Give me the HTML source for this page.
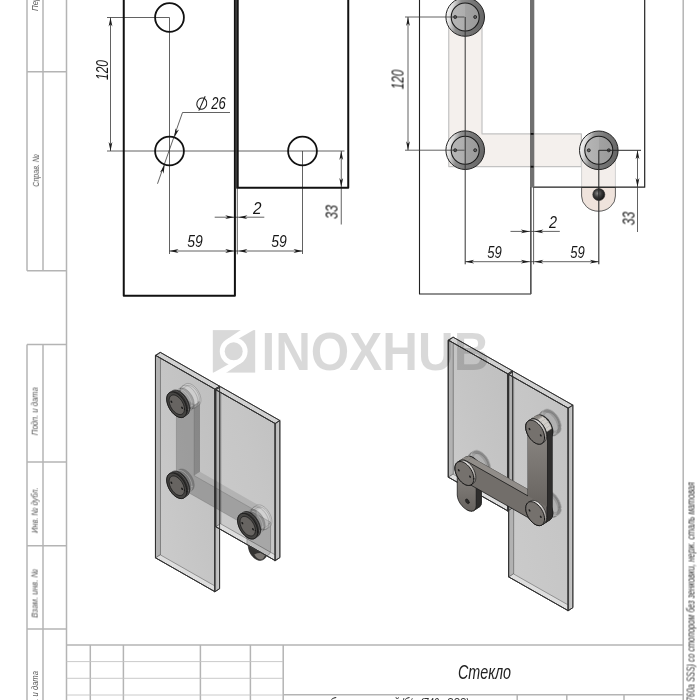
<!DOCTYPE html>
<html><head><meta charset="utf-8"><title>drawing</title>
<style>html,body{margin:0;padding:0;background:#fff;overflow:hidden}svg{display:block}</style>
</head><body>
<svg width="700" height="700" viewBox="0 0 700 700">
<rect width="700" height="700" fill="#fff"/>
<defs>
<filter id="nf" x="-20%" y="-20%" width="140%" height="140%" color-interpolation-filters="sRGB"><feOffset dx="0" dy="0"/></filter>
<linearGradient id="ring" x1="0" y1="0.4" x2="1" y2="0.6">
<stop offset="0" stop-color="#fafafa"/><stop offset="0.14" stop-color="#dadada"/><stop offset="0.32" stop-color="#8e8e8e"/><stop offset="0.6" stop-color="#777"/><stop offset="1" stop-color="#666"/>
</linearGradient>
<linearGradient id="disc" x1="0" y1="0" x2="1" y2="0">
<stop offset="0" stop-color="#b6b6b6"/><stop offset="0.5" stop-color="#adadad"/><stop offset="0.5" stop-color="#a2a2a2"/><stop offset="1" stop-color="#9a9a9a"/>
</linearGradient>
<radialGradient id="ball" cx="0.4" cy="0.4" r="0.6">
<stop offset="0" stop-color="#8a8a8a"/><stop offset="0.5" stop-color="#3c3c3c"/><stop offset="1" stop-color="#161616"/>
</radialGradient>
</defs>
<defs>
<linearGradient id="gl1" x1="0" y1="1" x2="1" y2="0"><stop offset="0" stop-color="#cccccc"/><stop offset="0.5" stop-color="#c5c5c5"/><stop offset="1" stop-color="#bfbfbf"/></linearGradient>
<linearGradient id="gl2" x1="0" y1="1" x2="1" y2="0"><stop offset="0" stop-color="#cbcbcb"/><stop offset="0.6" stop-color="#c6c6c6"/><stop offset="1" stop-color="#c1c1c1"/></linearGradient>
<linearGradient id="side" x1="0" y1="0" x2="1" y2="0"><stop offset="0" stop-color="#b4b4b4"/><stop offset="1" stop-color="#cdcdcd"/></linearGradient>
<linearGradient id="arm" x1="0" y1="0" x2="0" y2="1"><stop offset="0" stop-color="#8c8884"/><stop offset="1" stop-color="#67635f"/></linearGradient>
<linearGradient id="armh" x1="0" y1="0" x2="1" y2="0.5"><stop offset="0" stop-color="#6e6a66"/><stop offset="1" stop-color="#7c7874"/></linearGradient>
<linearGradient id="metal" x1="0" y1="0" x2="1" y2="1"><stop offset="0" stop-color="#8a8682"/><stop offset="0.35" stop-color="#e6e4e2"/><stop offset="0.7" stop-color="#b5b1ad"/><stop offset="1" stop-color="#77736f"/></linearGradient>
</defs>
<clipPath id="c1"><path d="M155.8,558 L214.9,591.7 L219.58,588.66 L219.58,386.16 L160.48,352.46 L155.8,355.5 Z M216.08,526.9 L275.18,560.6 L279.86,557.56 L279.86,420.53 L220.76,386.83 L216.08,389.87 Z"/></clipPath>
<path d="M247.8,541 L248.2,545.3 C248.6,552 252,558 258.5,560.3 C262,560.9 265.6,559 266.5,555.6 L266.5,550 Z" fill="#343332" stroke="#1a1a1a" stroke-width="0.6"/>
<path d="M254.3,554.4 Q259,552 265.2,553.8 Q264.8,557.8 261.6,559.4 Q257.3,559.8 254.3,554.4 Z" fill="#7c7874"/>
<path d="M155.8,558 L214.9,591.7 L214.9,389.2 L155.8,355.5 Z" fill="url(#gl1)" stroke="none" stroke-width="0.8" stroke-linejoin="round" stroke-linecap="round" />
<path d="M155.8,558 L160.48,554.96 L160.48,352.46 L155.8,355.5 Z" fill="#b2b2b2" stroke="#555" stroke-width="0.6" stroke-linejoin="round" stroke-linecap="round" />
<path d="M155.8,558 L214.9,591.7 L219.58,588.66 L160.48,554.96 Z" fill="#dedede" stroke="#666" stroke-width="0.6" stroke-linejoin="round" stroke-linecap="round" />
<path d="M155.8,355.5 L214.9,389.2 L219.58,386.16 L160.48,352.46 Z" fill="#d2d2d2" stroke="#3a3a3a" stroke-width="0.8" stroke-linejoin="round" stroke-linecap="round" />
<path d="M214.9,591.7 L219.58,588.66 L219.58,386.16 L214.9,389.2 Z" fill="url(#side)" stroke="#3a3a3a" stroke-width="0.8" stroke-linejoin="round" stroke-linecap="round" />
<path d="M155.8,558 L214.9,591.7 L214.9,389.2 L155.8,355.5 Z" fill="none" stroke="#3a3a3a" stroke-width="0.9" stroke-linejoin="round" stroke-linecap="round" />
<path d="M216.08,526.9 L275.18,560.6 L275.18,423.57 L216.08,389.87 Z" fill="url(#gl2)" stroke="none" stroke-width="0.8" stroke-linejoin="round" stroke-linecap="round" />
<path d="M216.08,526.9 L220.76,523.86 L220.76,386.83 L216.08,389.87 Z" fill="#b2b2b2" stroke="#555" stroke-width="0.6" stroke-linejoin="round" stroke-linecap="round" />
<path d="M216.08,526.9 L275.18,560.6 L279.86,557.56 L220.76,523.86 Z" fill="#dedede" stroke="#666" stroke-width="0.6" stroke-linejoin="round" stroke-linecap="round" />
<path d="M216.08,389.87 L275.18,423.57 L279.86,420.53 L220.76,386.83 Z" fill="#d2d2d2" stroke="#3a3a3a" stroke-width="0.8" stroke-linejoin="round" stroke-linecap="round" />
<path d="M275.18,560.6 L279.86,557.56 L279.86,420.53 L275.18,423.57 Z" fill="url(#side)" stroke="#3a3a3a" stroke-width="0.8" stroke-linejoin="round" stroke-linecap="round" />
<path d="M216.08,526.9 L275.18,560.6 L275.18,423.57 L216.08,389.87 Z" fill="none" stroke="#3a3a3a" stroke-width="0.9" stroke-linejoin="round" stroke-linecap="round" />
<g clip-path="url(#c1)">
<path d="M176.43,394.59 L176.43,485.72 L256.22,531.21 L256.22,510.96 L194.16,475.58 L194.16,404.7 Z" fill="rgba(0,0,0,0.20)" stroke="none" stroke-width="0.8" stroke-linejoin="round" stroke-linecap="round" />
<path d="M194.16,475.58 L194.16,404.7 L200.01,400.9 L200.01,471.78 Z" fill="rgba(0,0,0,0.30)" stroke="none" stroke-width="0.8" stroke-linejoin="round" stroke-linecap="round" />
<path d="M194.16,475.58 L256.22,510.96 L262.07,507.16 L200.01,471.78 Z" fill="rgba(0,0,0,0.10)" stroke="none" stroke-width="0.8" stroke-linejoin="round" stroke-linecap="round" />
<path d="M176.43,394.59 L176.43,485.72 L256.22,531.21 L256.22,510.96 L194.16,475.58 L194.16,404.7 Z" fill="none" stroke="rgba(60,60,60,0.35)" stroke-width="0.6" stroke-linejoin="round" stroke-linecap="round" />
<path d="M247,515.83 L252.85,512.03 L270.58,522.14 L270.58,550.49 L270.27,552.59 L269.39,554.2 L267.98,555.21 L262.13,559.01 L260.29,559.36 L258.16,559.02 L255.86,558.01 L253.57,556.4 L251.43,554.31 L249.59,551.87 L248.18,549.25 L247.3,546.62 L247,544.18 Z" fill="rgba(0,0,0,0.16)" stroke="rgba(50,50,50,0.5)" stroke-width="0.6" stroke-linejoin="round" stroke-linecap="round" />
<path d="M176.97,395.61 L177.06,394.34 L177.33,393.21 L177.77,392.24 L178.38,391.46 L179.13,390.88 L186.74,385.94 L187.62,385.58 L188.61,385.45 L189.68,385.56 L190.81,385.89 L191.96,386.45 L193.12,387.21 L194.24,388.16 L195.31,389.28 L196.3,390.54 L197.19,391.9 L197.94,393.33 L198.54,394.81 L198.99,396.28 L199.26,397.73 L199.35,399.1 L199.26,400.37 L198.99,401.5 L198.54,402.47 L197.94,403.25 L197.19,403.83 L189.58,408.77 L188.7,409.13 L187.71,409.25 L186.64,409.15 L185.51,408.82 L184.36,408.26 L183.2,407.5 L182.07,406.55 L181,405.43 L180.01,404.18 L179.13,402.81 L178.38,401.38 L177.77,399.9 L177.33,398.43 L177.06,396.98 Z" fill="rgba(255,255,255,0.06)" stroke="rgba(80,80,80,0.5)" stroke-width="0.6" stroke-linejoin="round" stroke-linecap="round" />
<path d="M180.05,391.66 L180.16,390.12 L180.49,388.74 L181.03,387.56 L181.77,386.61 L182.68,385.91 L185.61,384.01 L186.68,383.57 L187.88,383.42 L189.19,383.54 L190.56,383.95 L191.96,384.62 L193.37,385.55 L194.74,386.71 L196.04,388.07 L197.24,389.6 L198.31,391.25 L199.23,393 L199.97,394.79 L200.5,396.59 L200.83,398.34 L200.94,400.01 L200.83,401.55 L200.5,402.93 L199.97,404.11 L199.23,405.06 L198.31,405.76 L195.39,407.66 L194.32,408.1 L193.12,408.25 L191.81,408.13 L190.44,407.72 L189.04,407.05 L187.63,406.12 L186.26,404.96 L184.96,403.6 L183.76,402.07 L182.68,400.42 L181.77,398.67 L181.03,396.88 L180.49,395.08 L180.16,393.33 Z" fill="rgba(255,255,255,0.16)" stroke="rgba(90,90,90,0.55)" stroke-width="0.6" stroke-linejoin="round" stroke-linecap="round" />
<path d="M198.02,401.91 L197.91,400.24 L197.58,398.49 L197.04,396.69 L196.3,394.9 L195.39,393.15 L194.32,391.5 L193.11,389.97 L191.81,388.61 L190.44,387.45 L189.04,386.52 L187.63,385.85 L186.26,385.44 L184.96,385.32 L183.76,385.47 L182.68,385.91 L181.77,386.61 L181.03,387.56 L180.49,388.74 L180.16,390.12 L180.05,391.66 L180.16,393.33 L180.49,395.08 L181.03,396.88 L181.77,398.67 L182.68,400.42 L183.76,402.07 L184.96,403.6 L186.26,404.96 L187.63,406.12 L189.04,407.04 L190.44,407.72 L191.81,408.13 L193.11,408.25 L194.32,408.1 L195.39,407.66 L196.3,406.96 L197.04,406.01 L197.58,404.83 L197.91,403.45 L198.02,401.91 Z" fill="none" stroke="rgba(90,90,90,0.45)" stroke-width="0.6" stroke-linejoin="round" stroke-linecap="round" />
<path d="M172.1,397.12 L172.21,395.62 L172.53,394.27 L173.05,393.12 L173.77,392.2 L174.66,391.51 L179.34,388.47 L180.38,388.05 L181.56,387.9 L182.82,388.02 L184.16,388.42 L185.53,389.07 L186.9,389.98 L188.23,391.11 L189.5,392.43 L190.67,393.91 L191.71,395.53 L192.6,397.23 L193.32,398.97 L193.84,400.72 L194.17,402.43 L194.27,404.05 L194.17,405.55 L193.84,406.89 L193.32,408.04 L192.6,408.97 L191.71,409.66 L187.03,412.7 L185.99,413.12 L184.82,413.27 L183.55,413.15 L182.22,412.75 L180.85,412.1 L179.48,411.19 L178.14,410.06 L176.88,408.74 L175.71,407.25 L174.66,405.64 L173.77,403.94 L173.05,402.2 L172.53,400.45 L172.21,398.74 Z" fill="rgba(0,0,0,0.22)" stroke="rgba(70,70,70,0.45)" stroke-width="0.5" stroke-linejoin="round" stroke-linecap="round" />
<path d="M191.93,405.57 L191.83,403.95 L191.51,402.24 L190.98,400.49 L190.26,398.75 L189.37,397.05 L188.33,395.43 L187.16,393.95 L185.89,392.62 L184.55,391.5 L183.19,390.59 L181.82,389.94 L180.48,389.54 L179.22,389.42 L178.05,389.57 L177,389.99 L176.11,390.68 L175.39,391.61 L174.87,392.75 L174.55,394.1 L174.44,395.6 L174.55,397.22 L174.87,398.93 L175.39,400.68 L176.11,402.42 L177,404.12 L178.05,405.74 L179.22,407.22 L180.48,408.54 L181.82,409.67 L183.19,410.57 L184.55,411.23 L185.89,411.63 L187.16,411.75 L188.33,411.6 L189.37,411.18 L190.26,410.49 L190.98,409.56 L191.51,408.42 L191.83,407.07 L191.93,405.57 Z" fill="none" stroke="rgba(230,230,230,0.5)" stroke-width="0.6" stroke-linejoin="round" stroke-linecap="round" />
<path d="M172.1,478.12 L172.21,476.62 L172.53,475.27 L173.05,474.12 L173.77,473.2 L174.66,472.51 L179.34,469.47 L180.38,469.05 L181.56,468.9 L182.82,469.02 L184.16,469.42 L185.53,470.07 L186.9,470.98 L188.23,472.11 L189.5,473.43 L190.67,474.91 L191.71,476.53 L192.6,478.23 L193.32,479.97 L193.84,481.72 L194.17,483.43 L194.27,485.05 L194.17,486.55 L193.84,487.89 L193.32,489.04 L192.6,489.97 L191.71,490.66 L187.03,493.7 L185.99,494.12 L184.82,494.27 L183.55,494.15 L182.22,493.75 L180.85,493.1 L179.48,492.19 L178.14,491.06 L176.88,489.74 L175.71,488.25 L174.66,486.64 L173.77,484.94 L173.05,483.2 L172.53,481.45 L172.21,479.74 Z" fill="rgba(0,0,0,0.22)" stroke="rgba(70,70,70,0.45)" stroke-width="0.5" stroke-linejoin="round" stroke-linecap="round" />
<path d="M191.93,486.57 L191.83,484.95 L191.51,483.24 L190.98,481.49 L190.26,479.75 L189.37,478.05 L188.33,476.43 L187.16,474.95 L185.89,473.62 L184.55,472.5 L183.19,471.59 L181.82,470.94 L180.48,470.54 L179.22,470.42 L178.05,470.57 L177,470.99 L176.11,471.68 L175.39,472.61 L174.87,473.75 L174.55,475.1 L174.44,476.6 L174.55,478.22 L174.87,479.93 L175.39,481.68 L176.11,483.42 L177,485.12 L178.05,486.74 L179.22,488.22 L180.48,489.54 L181.82,490.67 L183.19,491.57 L184.55,492.23 L185.89,492.63 L187.16,492.75 L188.33,492.6 L189.37,492.18 L190.26,491.49 L190.98,490.56 L191.51,489.42 L191.83,488.07 L191.93,486.57 Z" fill="none" stroke="rgba(230,230,230,0.5)" stroke-width="0.6" stroke-linejoin="round" stroke-linecap="round" />
<path d="M247.89,517.05 L247.98,515.78 L248.25,514.65 L248.69,513.68 L249.3,512.9 L250.05,512.32 L257.66,507.38 L258.54,507.02 L259.53,506.89 L260.6,507 L261.73,507.33 L262.88,507.89 L264.04,508.65 L265.16,509.6 L266.24,510.72 L267.22,511.98 L268.11,513.34 L268.86,514.77 L269.46,516.25 L269.91,517.72 L270.18,519.17 L270.27,520.54 L270.18,521.8 L269.91,522.94 L269.46,523.91 L268.86,524.69 L268.11,525.27 L260.5,530.21 L259.62,530.57 L258.63,530.7 L257.56,530.59 L256.43,530.26 L255.28,529.7 L254.12,528.94 L252.99,527.99 L251.92,526.87 L250.93,525.62 L250.05,524.25 L249.3,522.82 L248.69,521.34 L248.25,519.87 L247.98,518.42 Z" fill="rgba(255,255,255,0.06)" stroke="rgba(80,80,80,0.5)" stroke-width="0.6" stroke-linejoin="round" stroke-linecap="round" />
<path d="M250.97,513.1 L251.08,511.56 L251.41,510.18 L251.95,509 L252.69,508.05 L253.6,507.35 L256.53,505.45 L257.6,505.01 L258.8,504.86 L260.11,504.98 L261.48,505.39 L262.88,506.06 L264.29,506.99 L265.66,508.15 L266.96,509.51 L268.16,511.04 L269.23,512.69 L270.15,514.44 L270.88,516.23 L271.43,518.03 L271.75,519.78 L271.87,521.45 L271.75,522.99 L271.43,524.37 L270.88,525.55 L270.15,526.5 L269.23,527.2 L266.31,529.1 L265.24,529.54 L264.04,529.69 L262.73,529.57 L261.36,529.16 L259.96,528.49 L258.55,527.56 L257.18,526.4 L255.88,525.04 L254.68,523.51 L253.6,521.86 L252.69,520.11 L251.95,518.32 L251.41,516.52 L251.08,514.77 Z" fill="rgba(255,255,255,0.16)" stroke="rgba(90,90,90,0.55)" stroke-width="0.6" stroke-linejoin="round" stroke-linecap="round" />
<path d="M268.94,523.35 L268.83,521.68 L268.5,519.93 L267.96,518.13 L267.22,516.34 L266.31,514.59 L265.24,512.94 L264.03,511.41 L262.73,510.05 L261.36,508.89 L259.96,507.96 L258.55,507.29 L257.18,506.88 L255.88,506.76 L254.68,506.91 L253.6,507.35 L252.69,508.05 L251.95,509 L251.41,510.18 L251.08,511.56 L250.97,513.1 L251.08,514.77 L251.41,516.52 L251.95,518.32 L252.69,520.11 L253.6,521.86 L254.68,523.51 L255.88,525.04 L257.18,526.4 L258.55,527.56 L259.96,528.48 L261.36,529.16 L262.73,529.57 L264.03,529.69 L265.24,529.54 L266.31,529.1 L267.22,528.4 L267.96,527.45 L268.5,526.27 L268.83,524.89 L268.94,523.35 Z" fill="none" stroke="rgba(90,90,90,0.45)" stroke-width="0.6" stroke-linejoin="round" stroke-linecap="round" />
<path d="M243.02,518.56 L243.13,517.06 L243.45,515.71 L243.97,514.57 L244.69,513.64 L245.58,512.95 L250.26,509.91 L251.31,509.49 L252.47,509.34 L253.74,509.46 L255.08,509.86 L256.45,510.51 L257.81,511.42 L259.15,512.54 L260.42,513.87 L261.59,515.35 L262.63,516.97 L263.52,518.67 L264.24,520.41 L264.76,522.16 L265.09,523.87 L265.19,525.49 L265.09,526.99 L264.76,528.34 L264.24,529.48 L263.52,530.41 L262.63,531.1 L257.95,534.14 L256.91,534.56 L255.74,534.71 L254.47,534.59 L253.13,534.19 L251.77,533.53 L250.4,532.63 L249.06,531.5 L247.79,530.18 L246.62,528.7 L245.58,527.08 L244.69,525.38 L243.97,523.64 L243.45,521.89 L243.13,520.18 Z" fill="rgba(0,0,0,0.22)" stroke="rgba(70,70,70,0.45)" stroke-width="0.5" stroke-linejoin="round" stroke-linecap="round" />
<path d="M262.85,527.01 L262.75,525.39 L262.43,523.68 L261.9,521.93 L261.18,520.19 L260.29,518.49 L259.25,516.87 L258.08,515.39 L256.81,514.06 L255.47,512.94 L254.11,512.03 L252.74,511.38 L251.4,510.98 L250.14,510.86 L248.97,511.01 L247.92,511.43 L247.03,512.12 L246.31,513.05 L245.79,514.19 L245.47,515.54 L245.36,517.04 L245.47,518.66 L245.79,520.37 L246.31,522.12 L247.03,523.86 L247.92,525.56 L248.97,527.18 L250.14,528.66 L251.4,529.98 L252.74,531.11 L254.11,532.01 L255.47,532.67 L256.81,533.07 L258.08,533.19 L259.25,533.04 L260.29,532.62 L261.18,531.93 L261.9,531 L262.43,529.86 L262.75,528.51 L262.85,527.01 Z" fill="none" stroke="rgba(230,230,230,0.5)" stroke-width="0.6" stroke-linejoin="round" stroke-linecap="round" />
</g>
<path d="M155.8,558 L214.9,591.7 L214.9,389.2 L155.8,355.5 Z" fill="none" stroke="#2e2e2e" stroke-width="0.9" stroke-linejoin="round" stroke-linecap="round" />
<path d="M214.9,591.7 L219.58,588.66 L219.58,386.16 L160.48,352.46 L155.8,355.5" fill="none" stroke="#2e2e2e" stroke-width="0.9" stroke-linejoin="round" stroke-linecap="round" />
<path d="M214.9,389.2 L219.58,386.16" fill="none" stroke="#2e2e2e" stroke-width="0.9" stroke-linejoin="round" stroke-linecap="round" />
<path d="M216.08,526.9 L275.18,560.6 L275.18,423.57 L216.08,389.87 Z" fill="none" stroke="#2e2e2e" stroke-width="0.9" stroke-linejoin="round" stroke-linecap="round" />
<path d="M275.18,560.6 L279.86,557.56 L279.86,420.53 L220.76,386.83 L216.08,389.87" fill="none" stroke="#2e2e2e" stroke-width="0.9" stroke-linejoin="round" stroke-linecap="round" />
<path d="M275.18,423.57 L279.86,420.53" fill="none" stroke="#2e2e2e" stroke-width="0.9" stroke-linejoin="round" stroke-linecap="round" />
<path d="M166.7,399.04 L166.83,397.31 L167.2,395.77 L167.8,394.45 L168.62,393.38 L169.65,392.6 L172.57,390.7 L173.77,390.21 L175.12,390.04 L176.57,390.18 L178.1,390.63 L179.68,391.39 L181.25,392.43 L182.78,393.72 L184.24,395.24 L185.58,396.95 L186.78,398.8 L187.81,400.75 L188.63,402.76 L189.23,404.77 L189.6,406.73 L189.72,408.59 L189.6,410.32 L189.23,411.86 L188.63,413.18 L187.81,414.24 L186.78,415.03 L183.86,416.93 L182.66,417.42 L181.31,417.59 L179.86,417.45 L178.32,417 L176.75,416.24 L175.18,415.2 L173.65,413.91 L172.19,412.39 L170.85,410.68 L169.65,408.83 L168.62,406.88 L167.8,404.87 L167.2,402.86 L166.83,400.9 Z" fill="#2f2e2d" stroke="#1c1c1c" stroke-width="0.7" stroke-linejoin="round" stroke-linecap="round" />
<path d="M188.55,409.35 L188.43,407.49 L188.06,405.53 L187.46,403.52 L186.63,401.51 L185.61,399.56 L184.41,397.71 L183.07,396 L181.61,394.48 L180.08,393.19 L178.51,392.15 L176.93,391.39 L175.4,390.94 L173.95,390.8 L172.6,390.97 L171.4,391.46 L170.38,392.25 L169.55,393.31 L168.95,394.63 L168.58,396.17 L168.46,397.9 L168.58,399.76 L168.95,401.72 L169.55,403.73 L170.38,405.73 L171.4,407.69 L172.6,409.54 L173.95,411.25 L175.4,412.77 L176.93,414.06 L178.51,415.1 L180.08,415.85 L181.61,416.31 L183.07,416.45 L184.41,416.28 L185.61,415.79 L186.63,415 L187.46,413.94 L188.06,412.62 L188.43,411.08 L188.55,409.35 Z" fill="none" stroke="#777" stroke-width="0.5" stroke-linejoin="round" stroke-linecap="round" />
<path d="M186.8,410.49 L186.67,408.63 L186.31,406.67 L185.7,404.66 L184.88,402.65 L183.86,400.7 L182.66,398.85 L181.31,397.14 L179.86,395.62 L178.32,394.33 L176.75,393.29 L175.18,392.53 L173.65,392.08 L172.19,391.94 L170.85,392.11 L169.65,392.6 L168.62,393.39 L167.8,394.45 L167.2,395.77 L166.83,397.31 L166.7,399.04 L166.83,400.9 L167.2,402.86 L167.8,404.87 L168.62,406.87 L169.65,408.83 L170.85,410.68 L172.19,412.39 L173.65,413.91 L175.18,415.2 L176.75,416.24 L178.32,416.99 L179.86,417.45 L181.31,417.59 L182.66,417.42 L183.86,416.93 L184.88,416.14 L185.7,415.08 L186.31,413.76 L186.67,412.22 L186.8,410.49 Z" fill="#454442" stroke="#151515" stroke-width="0.8" stroke-linejoin="round" stroke-linecap="round" />
<path d="M184.43,409.15 L184.34,407.72 L184.06,406.22 L183.6,404.68 L182.97,403.15 L182.18,401.66 L181.27,400.24 L180.24,398.94 L179.13,397.77 L177.95,396.78 L176.75,395.99 L175.55,395.41 L174.38,395.07 L173.26,394.96 L172.24,395.09 L171.32,395.46 L170.54,396.06 L169.91,396.88 L169.44,397.89 L169.16,399.07 L169.07,400.38 L169.16,401.81 L169.44,403.31 L169.91,404.85 L170.54,406.38 L171.32,407.87 L172.24,409.29 L173.26,410.59 L174.38,411.76 L175.55,412.75 L176.75,413.54 L177.95,414.12 L179.13,414.46 L180.24,414.57 L181.27,414.44 L182.18,414.07 L182.97,413.47 L183.6,412.65 L184.06,411.64 L184.34,410.46 L184.43,409.15 Z" fill="#676461" stroke="#1a1a1a" stroke-width="0.8" stroke-linejoin="round" stroke-linecap="round" />
<path d="M172.38,402.27 L172.37,402.1 L172.33,401.91 L172.27,401.72 L172.2,401.53 L172.1,401.35 L171.99,401.17 L171.86,401.01 L171.72,400.87 L171.58,400.75 L171.43,400.65 L171.28,400.58 L171.14,400.54 L171,400.52 L170.88,400.54 L170.76,400.59 L170.67,400.66 L170.59,400.76 L170.53,400.89 L170.5,401.03 L170.49,401.19 L170.5,401.37 L170.53,401.55 L170.59,401.74 L170.67,401.93 L170.76,402.11 L170.88,402.29 L171,402.45 L171.14,402.59 L171.28,402.71 L171.43,402.81 L171.58,402.88 L171.72,402.93 L171.86,402.94 L171.99,402.92 L172.1,402.88 L172.2,402.8 L172.27,402.7 L172.33,402.58 L172.37,402.43 L172.38,402.27 Z" fill="#1a1a1a" stroke="none" stroke-width="0.8" stroke-linejoin="round" stroke-linecap="round" />
<path d="M183.02,408.34 L183,408.16 L182.97,407.98 L182.91,407.79 L182.84,407.6 L182.74,407.42 L182.63,407.24 L182.5,407.08 L182.36,406.94 L182.22,406.82 L182.07,406.72 L181.92,406.65 L181.78,406.6 L181.64,406.59 L181.51,406.61 L181.4,406.65 L181.31,406.73 L181.23,406.83 L181.17,406.95 L181.14,407.1 L181.12,407.26 L181.14,407.43 L181.17,407.62 L181.23,407.81 L181.31,408 L181.4,408.18 L181.51,408.35 L181.64,408.52 L181.78,408.66 L181.92,408.78 L182.07,408.88 L182.22,408.95 L182.36,408.99 L182.5,409 L182.63,408.99 L182.74,408.94 L182.84,408.87 L182.91,408.77 L182.97,408.64 L183,408.5 L183.02,408.34 Z" fill="#1a1a1a" stroke="none" stroke-width="0.8" stroke-linejoin="round" stroke-linecap="round" />
<path d="M166.7,480.04 L166.83,478.31 L167.2,476.77 L167.8,475.45 L168.62,474.38 L169.65,473.6 L172.57,471.7 L173.77,471.21 L175.12,471.04 L176.57,471.18 L178.1,471.63 L179.68,472.39 L181.25,473.43 L182.78,474.72 L184.24,476.24 L185.58,477.95 L186.78,479.8 L187.81,481.75 L188.63,483.76 L189.23,485.77 L189.6,487.73 L189.72,489.59 L189.6,491.32 L189.23,492.86 L188.63,494.18 L187.81,495.24 L186.78,496.03 L183.86,497.93 L182.66,498.42 L181.31,498.59 L179.86,498.45 L178.32,498 L176.75,497.24 L175.18,496.2 L173.65,494.91 L172.19,493.39 L170.85,491.68 L169.65,489.83 L168.62,487.88 L167.8,485.87 L167.2,483.86 L166.83,481.9 Z" fill="#2f2e2d" stroke="#1c1c1c" stroke-width="0.7" stroke-linejoin="round" stroke-linecap="round" />
<path d="M188.55,490.35 L188.43,488.49 L188.06,486.53 L187.46,484.52 L186.63,482.51 L185.61,480.56 L184.41,478.71 L183.07,477 L181.61,475.48 L180.08,474.19 L178.51,473.15 L176.93,472.39 L175.4,471.94 L173.95,471.8 L172.6,471.97 L171.4,472.46 L170.38,473.25 L169.55,474.31 L168.95,475.63 L168.58,477.17 L168.46,478.9 L168.58,480.76 L168.95,482.72 L169.55,484.73 L170.38,486.73 L171.4,488.69 L172.6,490.54 L173.95,492.25 L175.4,493.77 L176.93,495.06 L178.51,496.1 L180.08,496.85 L181.61,497.31 L183.07,497.45 L184.41,497.28 L185.61,496.79 L186.63,496 L187.46,494.94 L188.06,493.62 L188.43,492.08 L188.55,490.35 Z" fill="none" stroke="#777" stroke-width="0.5" stroke-linejoin="round" stroke-linecap="round" />
<path d="M186.8,491.49 L186.67,489.63 L186.31,487.67 L185.7,485.66 L184.88,483.65 L183.86,481.7 L182.66,479.85 L181.31,478.14 L179.86,476.62 L178.32,475.33 L176.75,474.29 L175.18,473.53 L173.65,473.08 L172.19,472.94 L170.85,473.11 L169.65,473.6 L168.62,474.39 L167.8,475.45 L167.2,476.77 L166.83,478.31 L166.7,480.04 L166.83,481.9 L167.2,483.86 L167.8,485.87 L168.62,487.87 L169.65,489.83 L170.85,491.68 L172.19,493.39 L173.65,494.91 L175.18,496.2 L176.75,497.24 L178.32,497.99 L179.86,498.45 L181.31,498.59 L182.66,498.42 L183.86,497.93 L184.88,497.14 L185.7,496.08 L186.31,494.76 L186.67,493.22 L186.8,491.49 Z" fill="#454442" stroke="#151515" stroke-width="0.8" stroke-linejoin="round" stroke-linecap="round" />
<path d="M184.43,490.15 L184.34,488.72 L184.06,487.22 L183.6,485.68 L182.97,484.15 L182.18,482.66 L181.27,481.24 L180.24,479.94 L179.13,478.77 L177.95,477.78 L176.75,476.99 L175.55,476.41 L174.38,476.07 L173.26,475.96 L172.24,476.09 L171.32,476.46 L170.54,477.06 L169.91,477.88 L169.44,478.89 L169.16,480.07 L169.07,481.38 L169.16,482.81 L169.44,484.31 L169.91,485.85 L170.54,487.38 L171.32,488.87 L172.24,490.29 L173.26,491.59 L174.38,492.76 L175.55,493.75 L176.75,494.54 L177.95,495.12 L179.13,495.46 L180.24,495.57 L181.27,495.44 L182.18,495.07 L182.97,494.47 L183.6,493.65 L184.06,492.64 L184.34,491.46 L184.43,490.15 Z" fill="#676461" stroke="#1a1a1a" stroke-width="0.8" stroke-linejoin="round" stroke-linecap="round" />
<path d="M172.38,483.27 L172.37,483.1 L172.33,482.91 L172.27,482.72 L172.2,482.53 L172.1,482.35 L171.99,482.17 L171.86,482.01 L171.72,481.87 L171.58,481.75 L171.43,481.65 L171.28,481.58 L171.14,481.54 L171,481.52 L170.88,481.54 L170.76,481.59 L170.67,481.66 L170.59,481.76 L170.53,481.89 L170.5,482.03 L170.49,482.19 L170.5,482.37 L170.53,482.55 L170.59,482.74 L170.67,482.93 L170.76,483.11 L170.88,483.29 L171,483.45 L171.14,483.59 L171.28,483.71 L171.43,483.81 L171.58,483.88 L171.72,483.93 L171.86,483.94 L171.99,483.92 L172.1,483.88 L172.2,483.8 L172.27,483.7 L172.33,483.58 L172.37,483.43 L172.38,483.27 Z" fill="#1a1a1a" stroke="none" stroke-width="0.8" stroke-linejoin="round" stroke-linecap="round" />
<path d="M183.02,489.34 L183,489.16 L182.97,488.98 L182.91,488.79 L182.84,488.6 L182.74,488.42 L182.63,488.24 L182.5,488.08 L182.36,487.94 L182.22,487.82 L182.07,487.72 L181.92,487.65 L181.78,487.6 L181.64,487.59 L181.51,487.61 L181.4,487.65 L181.31,487.73 L181.23,487.83 L181.17,487.95 L181.14,488.1 L181.12,488.26 L181.14,488.43 L181.17,488.62 L181.23,488.81 L181.31,489 L181.4,489.18 L181.51,489.35 L181.64,489.52 L181.78,489.66 L181.92,489.78 L182.07,489.88 L182.22,489.95 L182.36,489.99 L182.5,490 L182.63,489.99 L182.74,489.94 L182.84,489.87 L182.91,489.77 L182.97,489.64 L183,489.5 L183.02,489.34 Z" fill="#1a1a1a" stroke="none" stroke-width="0.8" stroke-linejoin="round" stroke-linecap="round" />
<path d="M237.62,520.48 L237.75,518.75 L238.12,517.21 L238.72,515.89 L239.54,514.83 L240.57,514.04 L243.49,512.14 L244.69,511.65 L246.03,511.48 L247.49,511.62 L249.03,512.08 L250.6,512.83 L252.17,513.87 L253.7,515.16 L255.16,516.68 L256.5,518.39 L257.7,520.24 L258.73,522.2 L259.55,524.2 L260.15,526.21 L260.52,528.17 L260.64,530.03 L260.52,531.76 L260.15,533.3 L259.55,534.62 L258.73,535.68 L257.7,536.47 L254.78,538.37 L253.58,538.86 L252.23,539.03 L250.78,538.89 L249.24,538.43 L247.67,537.68 L246.1,536.64 L244.57,535.35 L243.11,533.83 L241.77,532.12 L240.57,530.27 L239.54,528.32 L238.72,526.31 L238.12,524.3 L237.75,522.34 Z" fill="#2f2e2d" stroke="#1c1c1c" stroke-width="0.7" stroke-linejoin="round" stroke-linecap="round" />
<path d="M259.47,530.79 L259.35,528.93 L258.98,526.97 L258.38,524.96 L257.55,522.95 L256.53,521 L255.33,519.15 L253.99,517.44 L252.53,515.92 L251,514.63 L249.43,513.59 L247.85,512.83 L246.32,512.38 L244.87,512.24 L243.52,512.41 L242.32,512.9 L241.3,513.69 L240.47,514.75 L239.87,516.07 L239.5,517.61 L239.38,519.34 L239.5,521.2 L239.87,523.16 L240.47,525.17 L241.3,527.17 L242.32,529.13 L243.52,530.98 L244.87,532.69 L246.32,534.21 L247.85,535.5 L249.43,536.54 L251,537.29 L252.53,537.75 L253.99,537.89 L255.33,537.72 L256.53,537.23 L257.55,536.44 L258.38,535.38 L258.98,534.06 L259.35,532.52 L259.47,530.79 Z" fill="none" stroke="#777" stroke-width="0.5" stroke-linejoin="round" stroke-linecap="round" />
<path d="M257.72,531.93 L257.59,530.07 L257.23,528.11 L256.62,526.1 L255.8,524.09 L254.78,522.14 L253.58,520.29 L252.23,518.58 L250.78,517.06 L249.24,515.77 L247.67,514.73 L246.1,513.97 L244.57,513.52 L243.11,513.38 L241.77,513.55 L240.57,514.04 L239.54,514.83 L238.72,515.89 L238.12,517.21 L237.75,518.75 L237.62,520.48 L237.75,522.34 L238.12,524.3 L238.72,526.31 L239.54,528.31 L240.57,530.27 L241.77,532.12 L243.11,533.83 L244.57,535.35 L246.1,536.64 L247.67,537.68 L249.24,538.43 L250.78,538.89 L252.23,539.03 L253.58,538.86 L254.78,538.37 L255.8,537.58 L256.62,536.52 L257.23,535.2 L257.59,533.66 L257.72,531.93 Z" fill="#454442" stroke="#151515" stroke-width="0.8" stroke-linejoin="round" stroke-linecap="round" />
<path d="M255.35,530.59 L255.26,529.16 L254.98,527.66 L254.52,526.12 L253.89,524.59 L253.1,523.1 L252.19,521.68 L251.16,520.38 L250.05,519.21 L248.87,518.22 L247.67,517.43 L246.47,516.85 L245.3,516.51 L244.18,516.4 L243.16,516.53 L242.24,516.9 L241.46,517.5 L240.83,518.32 L240.36,519.33 L240.08,520.51 L239.99,521.82 L240.08,523.25 L240.36,524.75 L240.83,526.29 L241.46,527.82 L242.24,529.31 L243.16,530.73 L244.18,532.03 L245.3,533.2 L246.47,534.19 L247.67,534.98 L248.87,535.56 L250.05,535.9 L251.16,536.01 L252.19,535.88 L253.1,535.51 L253.89,534.91 L254.52,534.09 L254.98,533.08 L255.26,531.9 L255.35,530.59 Z" fill="#676461" stroke="#1a1a1a" stroke-width="0.8" stroke-linejoin="round" stroke-linecap="round" />
<path d="M243.3,523.71 L243.29,523.54 L243.25,523.35 L243.19,523.16 L243.12,522.97 L243.02,522.79 L242.91,522.61 L242.78,522.45 L242.64,522.31 L242.5,522.19 L242.35,522.09 L242.2,522.02 L242.06,521.98 L241.92,521.96 L241.8,521.98 L241.68,522.03 L241.59,522.1 L241.51,522.2 L241.45,522.33 L241.42,522.47 L241.41,522.63 L241.42,522.81 L241.45,522.99 L241.51,523.18 L241.59,523.37 L241.68,523.55 L241.8,523.73 L241.92,523.89 L242.06,524.03 L242.2,524.15 L242.35,524.25 L242.5,524.32 L242.64,524.37 L242.78,524.38 L242.91,524.36 L243.02,524.32 L243.12,524.24 L243.19,524.14 L243.25,524.02 L243.29,523.87 L243.3,523.71 Z" fill="#1a1a1a" stroke="none" stroke-width="0.8" stroke-linejoin="round" stroke-linecap="round" />
<path d="M253.94,529.78 L253.92,529.6 L253.89,529.42 L253.83,529.23 L253.76,529.04 L253.66,528.86 L253.55,528.68 L253.42,528.52 L253.28,528.38 L253.14,528.26 L252.99,528.16 L252.84,528.09 L252.7,528.04 L252.56,528.03 L252.43,528.05 L252.32,528.09 L252.23,528.17 L252.15,528.27 L252.09,528.39 L252.06,528.54 L252.04,528.7 L252.06,528.87 L252.09,529.06 L252.15,529.25 L252.23,529.44 L252.32,529.62 L252.43,529.79 L252.56,529.96 L252.7,530.1 L252.84,530.22 L252.99,530.32 L253.14,530.39 L253.28,530.43 L253.42,530.44 L253.55,530.43 L253.66,530.38 L253.76,530.31 L253.83,530.21 L253.89,530.08 L253.92,529.94 L253.94,529.78 Z" fill="#1a1a1a" stroke="none" stroke-width="0.8" stroke-linejoin="round" stroke-linecap="round" />
<clipPath id="c2"><path d="M448.6,477.32 L507.8,510.92 L512.48,507.88 L512.48,370.86 L453.28,337.26 L448.6,340.3 Z M508.98,577.07 L568.18,610.67 L572.86,607.63 L572.86,405.13 L513.66,371.53 L508.98,374.57 Z"/></clipPath>
<path d="M448.6,477.32 L507.8,510.92 L507.8,373.9 L448.6,340.3 Z" fill="url(#gl1)" stroke="none" stroke-width="0.8" stroke-linejoin="round" stroke-linecap="round" />
<path d="M448.6,477.32 L453.28,474.28 L453.28,337.26 L448.6,340.3 Z" fill="#b2b2b2" stroke="#555" stroke-width="0.6" stroke-linejoin="round" stroke-linecap="round" />
<path d="M448.6,477.32 L507.8,510.92 L512.48,507.88 L453.28,474.28 Z" fill="#dedede" stroke="#666" stroke-width="0.6" stroke-linejoin="round" stroke-linecap="round" />
<path d="M448.6,340.3 L507.8,373.9 L512.48,370.86 L453.28,337.26 Z" fill="#d2d2d2" stroke="#3a3a3a" stroke-width="0.8" stroke-linejoin="round" stroke-linecap="round" />
<path d="M507.8,510.92 L512.48,507.88 L512.48,370.86 L507.8,373.9 Z" fill="url(#side)" stroke="#3a3a3a" stroke-width="0.8" stroke-linejoin="round" stroke-linecap="round" />
<path d="M448.6,477.32 L507.8,510.92 L507.8,373.9 L448.6,340.3 Z" fill="none" stroke="#3a3a3a" stroke-width="0.9" stroke-linejoin="round" stroke-linecap="round" />
<path d="M508.98,577.07 L568.18,610.67 L568.18,408.17 L508.98,374.57 Z" fill="url(#gl2)" stroke="none" stroke-width="0.8" stroke-linejoin="round" stroke-linecap="round" />
<path d="M508.98,577.07 L513.66,574.03 L513.66,371.53 L508.98,374.57 Z" fill="#b2b2b2" stroke="#555" stroke-width="0.6" stroke-linejoin="round" stroke-linecap="round" />
<path d="M508.98,577.07 L568.18,610.67 L572.86,607.63 L513.66,574.03 Z" fill="#dedede" stroke="#666" stroke-width="0.6" stroke-linejoin="round" stroke-linecap="round" />
<path d="M508.98,374.57 L568.18,408.17 L572.86,405.13 L513.66,371.53 Z" fill="#d2d2d2" stroke="#3a3a3a" stroke-width="0.8" stroke-linejoin="round" stroke-linecap="round" />
<path d="M568.18,610.67 L572.86,607.63 L572.86,405.13 L568.18,408.17 Z" fill="url(#side)" stroke="#3a3a3a" stroke-width="0.8" stroke-linejoin="round" stroke-linecap="round" />
<path d="M508.98,577.07 L568.18,610.67 L568.18,408.17 L508.98,374.57 Z" fill="none" stroke="#3a3a3a" stroke-width="0.9" stroke-linejoin="round" stroke-linecap="round" />
<g clip-path="url(#c2)">
<path d="M468.02,459.16 L468.14,457.48 L468.5,455.97 L469.09,454.68 L469.9,453.64 L470.9,452.87 L473.82,450.97 L475,450.5 L476.31,450.32 L477.74,450.46 L479.24,450.9 L480.77,451.63 L482.31,452.64 L483.81,453.91 L485.23,455.39 L486.55,457.05 L487.72,458.86 L488.72,460.76 L489.53,462.72 L490.12,464.68 L490.48,466.6 L490.6,468.42 L490.48,470.1 L490.12,471.61 L489.53,472.9 L488.72,473.94 L487.72,474.71 L484.8,476.61 L483.62,477.08 L482.31,477.25 L480.88,477.12 L479.38,476.68 L477.85,475.94 L476.31,474.93 L474.81,473.67 L473.39,472.19 L472.07,470.53 L470.9,468.72 L469.9,466.81 L469.09,464.86 L468.5,462.9 L468.14,460.98 Z" fill="rgba(30,30,30,0.36)" stroke="rgba(70,70,70,0.45)" stroke-width="0.6" stroke-linejoin="round" stroke-linecap="round" />
<path d="M490.6,468.42 L490.48,466.6 L490.12,464.68 L489.53,462.72 L488.72,460.77 L487.72,458.86 L486.55,457.05 L485.23,455.39 L483.81,453.91 L482.31,452.64 L480.77,451.63 L479.24,450.9 L477.74,450.46 L476.31,450.32 L475,450.5 L473.82,450.97 L472.82,451.74 L472.02,452.78 L471.43,454.07 L471.07,455.58 L470.95,457.26 L471.07,459.08 L471.43,461 L472.02,462.96 L472.82,464.91 L473.82,466.82 L475,468.63 L476.31,470.29 L477.74,471.77 L479.24,473.03 L480.77,474.04 L482.31,474.78 L483.81,475.22 L485.23,475.35 L486.55,475.18 L487.72,474.71 L488.72,473.94 L489.53,472.9 L490.12,471.61 L490.48,470.1 L490.6,468.42 Z" fill="none" stroke="rgba(215,215,215,0.6)" stroke-width="0.7" stroke-linejoin="round" stroke-linecap="round" />
<path d="M488.17,467.04 L488.08,465.67 L487.81,464.23 L487.37,462.75 L486.76,461.28 L486.01,459.84 L485.12,458.48 L484.13,457.23 L483.06,456.11 L481.93,455.16 L480.77,454.4 L479.62,453.85 L478.49,453.52 L477.41,453.41 L476.42,453.54 L475.54,453.9 L474.79,454.48 L474.18,455.27 L473.74,456.24 L473.46,457.37 L473.37,458.64 L473.46,460.01 L473.74,461.45 L474.18,462.93 L474.79,464.4 L475.54,465.84 L476.42,467.2 L477.41,468.45 L478.49,469.57 L479.62,470.52 L480.77,471.28 L481.93,471.83 L483.06,472.16 L484.13,472.26 L485.12,472.13 L486.01,471.78 L486.76,471.2 L487.37,470.41 L487.81,469.44 L488.08,468.31 L488.17,467.04 Z" fill="rgba(255,255,255,0.16)" stroke="rgba(60,60,60,0.35)" stroke-width="0.5" stroke-linejoin="round" stroke-linecap="round" />
<path d="M464.29,462.74 L464.4,461.22 L464.72,459.86 L465.26,458.69 L465.98,457.75 L466.89,457.06 L471.57,454.02 L472.63,453.58 L473.82,453.43 L475.1,453.55 L476.46,453.95 L477.85,454.61 L479.24,455.53 L480.59,456.67 L481.88,458.01 L483.07,459.51 L484.13,461.14 L485.03,462.87 L485.76,464.63 L486.29,466.4 L486.62,468.13 L486.73,469.78 L486.62,471.3 L486.29,472.66 L485.76,473.83 L485.03,474.77 L484.13,475.46 L479.45,478.5 L478.39,478.93 L477.2,479.09 L475.91,478.97 L474.56,478.57 L473.17,477.9 L471.78,476.99 L470.42,475.85 L469.14,474.51 L467.95,473.01 L466.89,471.38 L465.98,469.65 L465.26,467.88 L464.72,466.11 L464.4,464.38 Z" fill="rgba(255,255,255,0.22)" stroke="none" stroke-width="0.8" stroke-linejoin="round" stroke-linecap="round" />
<path d="M538.76,499.31 L538.89,497.63 L539.25,496.12 L539.84,494.83 L540.64,493.79 L541.64,493.02 L544.57,491.12 L545.74,490.65 L547.06,490.48 L548.48,490.61 L549.98,491.05 L551.52,491.79 L553.05,492.8 L554.55,494.06 L555.98,495.54 L557.29,497.2 L558.47,499.01 L559.47,500.92 L560.27,502.87 L560.86,504.83 L561.22,506.75 L561.34,508.57 L561.22,510.25 L560.86,511.76 L560.27,513.05 L559.47,514.09 L558.47,514.86 L555.54,516.76 L554.37,517.23 L553.05,517.41 L551.63,517.27 L550.13,516.83 L548.59,516.1 L547.05,515.09 L545.55,513.82 L544.13,512.34 L542.82,510.68 L541.64,508.87 L540.64,506.96 L539.84,505.01 L539.25,503.05 L538.89,501.13 Z" fill="rgba(30,30,30,0.36)" stroke="rgba(70,70,70,0.45)" stroke-width="0.6" stroke-linejoin="round" stroke-linecap="round" />
<path d="M561.34,508.57 L561.22,506.75 L560.86,504.83 L560.27,502.87 L559.47,500.92 L558.47,499.01 L557.29,497.2 L555.98,495.54 L554.55,494.06 L553.05,492.8 L551.52,491.79 L549.98,491.05 L548.48,490.61 L547.06,490.48 L545.74,490.65 L544.57,491.12 L543.57,491.89 L542.76,492.93 L542.17,494.22 L541.81,495.73 L541.69,497.41 L541.81,499.23 L542.17,501.15 L542.76,503.11 L543.57,505.06 L544.57,506.97 L545.74,508.78 L547.06,510.44 L548.48,511.92 L549.98,513.19 L551.52,514.2 L553.05,514.93 L554.55,515.37 L555.98,515.51 L557.29,515.33 L558.47,514.86 L559.47,514.09 L560.27,513.05 L560.86,511.76 L561.22,510.25 L561.34,508.57 Z" fill="none" stroke="rgba(215,215,215,0.6)" stroke-width="0.7" stroke-linejoin="round" stroke-linecap="round" />
<path d="M558.92,507.19 L558.83,505.82 L558.55,504.38 L558.11,502.9 L557.5,501.43 L556.75,499.99 L555.87,498.63 L554.88,497.38 L553.8,496.26 L552.67,495.31 L551.52,494.55 L550.36,494 L549.23,493.67 L548.16,493.57 L547.17,493.7 L546.28,494.05 L545.53,494.63 L544.92,495.42 L544.48,496.39 L544.21,497.52 L544.12,498.79 L544.21,500.16 L544.48,501.6 L544.92,503.08 L545.53,504.55 L546.28,505.99 L547.17,507.35 L548.16,508.6 L549.23,509.72 L550.36,510.67 L551.52,511.43 L552.67,511.98 L553.8,512.31 L554.88,512.42 L555.87,512.29 L556.75,511.93 L557.5,511.35 L558.11,510.56 L558.55,509.59 L558.83,508.46 L558.92,507.19 Z" fill="rgba(255,255,255,0.16)" stroke="rgba(60,60,60,0.35)" stroke-width="0.5" stroke-linejoin="round" stroke-linecap="round" />
<path d="M535.03,502.89 L535.14,501.37 L535.47,500.01 L536,498.84 L536.73,497.9 L537.63,497.21 L542.31,494.17 L543.37,493.74 L544.56,493.58 L545.85,493.7 L547.2,494.1 L548.59,494.77 L549.98,495.68 L551.34,496.82 L552.62,498.16 L553.81,499.66 L554.87,501.3 L555.78,503.02 L556.5,504.79 L557.04,506.56 L557.36,508.29 L557.47,509.93 L557.36,511.45 L557.04,512.81 L556.5,513.98 L555.78,514.92 L554.87,515.61 L550.19,518.65 L549.13,519.09 L547.94,519.24 L546.66,519.12 L545.3,518.72 L543.91,518.06 L542.52,517.14 L541.17,516 L539.88,514.66 L538.69,513.16 L537.63,511.53 L536.73,509.81 L536,508.04 L535.47,506.27 L535.14,504.54 Z" fill="rgba(255,255,255,0.22)" stroke="none" stroke-width="0.8" stroke-linejoin="round" stroke-linecap="round" />
<path d="M538.76,417.91 L538.89,416.22 L539.25,414.72 L539.84,413.43 L540.64,412.39 L541.64,411.62 L544.57,409.72 L545.74,409.24 L547.06,409.07 L548.48,409.21 L549.98,409.65 L551.52,410.38 L553.05,411.39 L554.55,412.65 L555.98,414.13 L557.29,415.8 L558.47,417.61 L559.47,419.51 L560.27,421.47 L560.86,423.43 L561.22,425.34 L561.34,427.16 L561.22,428.85 L560.86,430.35 L560.27,431.64 L559.47,432.69 L558.47,433.45 L555.54,435.35 L554.37,435.83 L553.05,436 L551.63,435.87 L550.13,435.43 L548.59,434.69 L547.05,433.68 L545.55,432.42 L544.13,430.94 L542.82,429.27 L541.64,427.46 L540.64,425.56 L539.84,423.6 L539.25,421.64 L538.89,419.73 Z" fill="rgba(30,30,30,0.36)" stroke="rgba(70,70,70,0.45)" stroke-width="0.6" stroke-linejoin="round" stroke-linecap="round" />
<path d="M561.34,427.16 L561.22,425.34 L560.86,423.43 L560.27,421.47 L559.47,419.51 L558.47,417.61 L557.29,415.8 L555.98,414.13 L554.55,412.65 L553.05,411.39 L551.52,410.38 L549.98,409.65 L548.48,409.21 L547.06,409.07 L545.74,409.24 L544.57,409.72 L543.57,410.49 L542.76,411.53 L542.17,412.82 L541.81,414.32 L541.69,416.01 L541.81,417.83 L542.17,419.74 L542.76,421.7 L543.57,423.66 L544.57,425.57 L545.74,427.37 L547.06,429.04 L548.48,430.52 L549.98,431.78 L551.52,432.79 L553.05,433.53 L554.55,433.97 L555.98,434.1 L557.29,433.93 L558.47,433.45 L559.47,432.68 L560.27,431.64 L560.86,430.35 L561.22,428.85 L561.34,427.16 Z" fill="none" stroke="rgba(215,215,215,0.6)" stroke-width="0.7" stroke-linejoin="round" stroke-linecap="round" />
<path d="M558.92,425.79 L558.83,424.41 L558.55,422.97 L558.11,421.5 L557.5,420.02 L556.75,418.59 L555.87,417.23 L554.88,415.97 L553.8,414.86 L552.67,413.91 L551.52,413.15 L550.36,412.6 L549.23,412.26 L548.16,412.16 L547.17,412.29 L546.28,412.65 L545.53,413.23 L544.92,414.01 L544.48,414.98 L544.21,416.12 L544.12,417.39 L544.21,418.76 L544.48,420.2 L544.92,421.67 L545.53,423.15 L546.28,424.58 L547.17,425.94 L548.16,427.2 L549.23,428.31 L550.36,429.26 L551.52,430.02 L552.67,430.58 L553.8,430.91 L554.88,431.01 L555.87,430.88 L556.75,430.52 L557.5,429.94 L558.11,429.16 L558.55,428.19 L558.83,427.05 L558.92,425.79 Z" fill="rgba(255,255,255,0.16)" stroke="rgba(60,60,60,0.35)" stroke-width="0.5" stroke-linejoin="round" stroke-linecap="round" />
<path d="M535.03,421.49 L535.14,419.96 L535.47,418.6 L536,417.44 L536.73,416.5 L537.63,415.8 L542.31,412.76 L543.37,412.33 L544.56,412.18 L545.85,412.3 L547.2,412.7 L548.59,413.36 L549.98,414.27 L551.34,415.41 L552.62,416.75 L553.81,418.26 L554.87,419.89 L555.78,421.61 L556.5,423.38 L557.04,425.15 L557.36,426.88 L557.47,428.53 L557.36,430.05 L557.04,431.41 L556.5,432.57 L555.78,433.51 L554.87,434.21 L550.19,437.25 L549.13,437.68 L547.94,437.84 L546.66,437.71 L545.3,437.31 L543.91,436.65 L542.52,435.74 L541.17,434.6 L539.88,433.26 L538.69,431.75 L537.63,430.12 L536.73,428.4 L536,426.63 L535.47,424.86 L535.14,423.13 Z" fill="rgba(255,255,255,0.22)" stroke="none" stroke-width="0.8" stroke-linejoin="round" stroke-linecap="round" />
</g>
<path d="M448.6,477.32 L507.8,510.92 L507.8,373.9 L448.6,340.3 Z" fill="none" stroke="#2e2e2e" stroke-width="0.9" stroke-linejoin="round" stroke-linecap="round" />
<path d="M507.8,510.92 L512.48,507.88 L512.48,370.86 L453.28,337.26 L448.6,340.3" fill="none" stroke="#2e2e2e" stroke-width="0.9" stroke-linejoin="round" stroke-linecap="round" />
<path d="M507.8,373.9 L512.48,370.86" fill="none" stroke="#2e2e2e" stroke-width="0.9" stroke-linejoin="round" stroke-linecap="round" />
<path d="M508.98,577.07 L568.18,610.67 L568.18,408.17 L508.98,374.57 Z" fill="none" stroke="#2e2e2e" stroke-width="0.9" stroke-linejoin="round" stroke-linecap="round" />
<path d="M568.18,610.67 L572.86,607.63 L572.86,405.13 L513.66,371.53 L508.98,374.57" fill="none" stroke="#2e2e2e" stroke-width="0.9" stroke-linejoin="round" stroke-linecap="round" />
<path d="M568.18,408.17 L572.86,405.13" fill="none" stroke="#2e2e2e" stroke-width="0.9" stroke-linejoin="round" stroke-linecap="round" />
<path d="M461.36,463.92 L461.47,462.3 L461.82,460.85 L462.39,459.61 L463.17,458.6 L464.13,457.86 L466.47,456.34 L467.6,455.88 L468.87,455.71 L470.24,455.85 L471.69,456.27 L473.17,456.98 L474.65,457.95 L476.1,459.17 L477.47,460.6 L478.74,462.2 L479.87,463.94 L480.83,465.78 L481.61,467.67 L482.18,469.55 L482.52,471.4 L482.64,473.15 L482.52,474.78 L482.18,476.23 L481.61,477.47 L480.83,478.48 L479.87,479.22 L477.53,480.74 L476.4,481.2 L475.13,481.36 L473.75,481.23 L472.31,480.81 L470.83,480.1 L469.35,479.12 L467.9,477.91 L466.53,476.48 L465.26,474.88 L464.13,473.13 L463.17,471.3 L462.39,469.41 L461.82,467.52 L461.47,465.68 Z" fill="#1e1e1e" stroke="none" stroke-width="0.8" stroke-linejoin="round" stroke-linecap="round" />
<path d="M454.98,468.14 L455.1,466.52 L455.44,465.08 L456.01,463.85 L456.78,462.85 L457.74,462.11 L463.3,458.5 L464.42,458.05 L465.68,457.88 L467.04,458.01 L468.48,458.43 L469.95,459.14 L471.42,460.1 L472.86,461.31 L474.22,462.73 L475.48,464.33 L476.61,466.06 L477.57,467.88 L478.34,469.76 L478.9,471.63 L479.25,473.47 L479.36,475.21 L479.25,476.82 L478.9,478.27 L478.34,479.5 L477.57,480.5 L476.61,481.24 L471.05,484.85 L469.93,485.3 L468.67,485.47 L467.3,485.34 L465.87,484.92 L464.39,484.21 L462.92,483.24 L461.48,482.04 L460.12,480.62 L458.86,479.02 L457.74,477.29 L456.78,475.46 L456.01,473.59 L455.44,471.71 L455.1,469.88 Z" fill="url(#metal)" stroke="#1a1a1a" stroke-width="0.8" stroke-linejoin="round" stroke-linecap="round" />
<path d="M532.1,504.07 L532.22,502.45 L532.56,501 L533.13,499.76 L533.91,498.75 L534.87,498.01 L537.21,496.49 L538.34,496.03 L539.61,495.87 L540.99,496 L542.43,496.42 L543.91,497.13 L545.39,498.11 L546.84,499.32 L548.21,500.75 L549.48,502.35 L550.61,504.1 L551.58,505.93 L552.35,507.82 L552.92,509.71 L553.27,511.55 L553.38,513.31 L553.27,514.93 L552.92,516.38 L552.35,517.62 L551.58,518.63 L550.61,519.37 L548.27,520.89 L547.14,521.35 L545.87,521.51 L544.5,521.38 L543.05,520.96 L541.57,520.25 L540.09,519.28 L538.64,518.06 L537.27,516.63 L536,515.03 L534.87,513.29 L533.91,511.45 L533.13,509.56 L532.56,507.68 L532.22,505.83 Z" fill="#1e1e1e" stroke="none" stroke-width="0.8" stroke-linejoin="round" stroke-linecap="round" />
<path d="M525.72,508.29 L525.84,506.68 L526.18,505.23 L526.75,504 L527.52,503 L528.48,502.26 L534.04,498.65 L535.16,498.2 L536.42,498.03 L537.79,498.16 L539.22,498.58 L540.7,499.29 L542.17,500.26 L543.6,501.46 L544.97,502.88 L546.23,504.48 L547.35,506.21 L548.31,508.04 L549.08,509.91 L549.65,511.79 L549.99,513.62 L550.11,515.36 L549.99,516.98 L549.65,518.42 L549.08,519.65 L548.31,520.65 L547.35,521.39 L541.79,525 L540.67,525.45 L539.41,525.62 L538.05,525.49 L536.61,525.07 L535.14,524.36 L533.66,523.4 L532.23,522.19 L530.86,520.77 L529.6,519.17 L528.48,517.44 L527.52,515.62 L526.75,513.74 L526.18,511.87 L525.84,510.03 Z" fill="url(#metal)" stroke="#1a1a1a" stroke-width="0.8" stroke-linejoin="round" stroke-linecap="round" />
<path d="M532.1,422.67 L532.22,421.05 L532.56,419.6 L533.13,418.35 L533.91,417.35 L534.87,416.61 L537.21,415.09 L538.34,414.63 L539.61,414.46 L540.99,414.59 L542.43,415.02 L543.91,415.73 L545.39,416.7 L546.84,417.92 L548.21,419.34 L549.48,420.95 L550.61,422.69 L551.58,424.53 L552.35,426.41 L552.92,428.3 L553.27,430.15 L553.38,431.9 L553.27,433.52 L552.92,434.98 L552.35,436.22 L551.58,437.22 L550.61,437.96 L548.27,439.48 L547.14,439.94 L545.87,440.11 L544.5,439.98 L543.05,439.55 L541.57,438.85 L540.09,437.87 L538.64,436.66 L537.27,435.23 L536,433.62 L534.87,431.88 L533.91,430.05 L533.13,428.16 L532.56,426.27 L532.22,424.43 Z" fill="#1e1e1e" stroke="none" stroke-width="0.8" stroke-linejoin="round" stroke-linecap="round" />
<path d="M525.72,426.88 L525.84,425.27 L526.18,423.83 L526.75,422.59 L527.52,421.6 L528.48,420.86 L534.04,417.25 L535.16,416.79 L536.42,416.63 L537.79,416.76 L539.22,417.18 L540.7,417.88 L542.17,418.85 L543.6,420.06 L544.97,421.48 L546.23,423.07 L547.35,424.81 L548.31,426.63 L549.08,428.5 L549.65,430.38 L549.99,432.21 L550.11,433.96 L549.99,435.57 L549.65,437.01 L549.08,438.25 L548.31,439.25 L547.35,439.98 L541.79,443.59 L540.67,444.05 L539.41,444.21 L538.05,444.08 L536.61,443.66 L535.14,442.96 L533.66,441.99 L532.23,440.78 L530.86,439.36 L529.6,437.77 L528.48,436.04 L527.52,434.21 L526.75,432.34 L526.18,430.46 L525.84,428.63 Z" fill="url(#metal)" stroke="#1a1a1a" stroke-width="0.8" stroke-linejoin="round" stroke-linecap="round" />
<path d="M462.53,463.16 L462.53,491.51 L462.53,491.51 L462.85,494.14 L463.8,496.96 L465.3,499.77 L467.26,502.38 L469.55,504.63 L472,506.34 L474.45,507.41 L476.73,507.76 L478.7,507.37 L480.2,506.27 L481.15,504.53 L481.47,502.26 L481.47,473.91 Z" fill="#2e2d2c" stroke="#1a1a1a" stroke-width="0.6" stroke-linejoin="round" stroke-linecap="round" />
<path d="M466.73,509.76 L469.18,510.83 L474.45,507.41 L472,506.34 Z" fill="#2e2d2c" stroke="#2e2d2c" stroke-width="0.4" stroke-linejoin="round" stroke-linecap="round" />
<path d="M469.18,510.83 L471.47,511.18 L476.73,507.76 L474.45,507.41 Z" fill="#2e2d2c" stroke="#2e2d2c" stroke-width="0.4" stroke-linejoin="round" stroke-linecap="round" />
<path d="M471.47,511.18 L473.43,510.79 L478.7,507.37 L476.73,507.76 Z" fill="#2e2d2c" stroke="#2e2d2c" stroke-width="0.4" stroke-linejoin="round" stroke-linecap="round" />
<path d="M473.43,510.79 L474.94,509.69 L480.2,506.27 L478.7,507.37 Z" fill="#2e2d2c" stroke="#2e2d2c" stroke-width="0.4" stroke-linejoin="round" stroke-linecap="round" />
<path d="M474.94,509.69 L475.88,507.95 L481.15,504.53 L480.2,506.27 Z" fill="#2e2d2c" stroke="#2e2d2c" stroke-width="0.4" stroke-linejoin="round" stroke-linecap="round" />
<path d="M475.88,507.95 L476.21,505.69 L481.47,502.26 L481.15,504.53 Z" fill="#2e2d2c" stroke="#2e2d2c" stroke-width="0.4" stroke-linejoin="round" stroke-linecap="round" />
<path d="M476.21,505.69 L476.21,477.33 L481.47,473.91 L481.47,502.26 Z" fill="#2e2d2c" stroke="#2e2d2c" stroke-width="0.4" stroke-linejoin="round" stroke-linecap="round" />
<path d="M476.21,477.33 L457.26,466.58 L462.53,463.16 L481.47,473.91 Z" fill="#918d89" stroke="#918d89" stroke-width="0.4" stroke-linejoin="round" stroke-linecap="round" />
<path d="M457.26,466.58 L457.26,494.93 L457.26,494.93 L457.58,497.56 L458.53,500.38 L460.04,503.19 L462,505.8 L464.28,508.05 L466.73,509.76 L469.18,510.83 L471.47,511.18 L473.43,510.79 L474.94,509.69 L475.88,507.95 L476.21,505.69 L476.21,477.33 Z" fill="url(#arm)" stroke="#1a1a1a" stroke-width="0.8" stroke-linejoin="round" stroke-linecap="round" />
<path d="M469.22,502.4 L469.2,502.04 L469.13,501.68 L469.01,501.3 L468.86,500.92 L468.66,500.55 L468.44,500.2 L468.19,499.88 L467.91,499.6 L467.62,499.35 L467.33,499.16 L467.03,499.02 L466.74,498.93 L466.46,498.91 L466.21,498.94 L465.99,499.03 L465.79,499.18 L465.64,499.38 L465.52,499.63 L465.45,499.92 L465.43,500.24 L465.45,500.6 L465.52,500.96 L465.64,501.34 L465.79,501.72 L465.99,502.09 L466.21,502.44 L466.46,502.76 L466.74,503.04 L467.03,503.29 L467.33,503.48 L467.62,503.62 L467.91,503.71 L468.19,503.73 L468.44,503.7 L468.66,503.61 L468.86,503.46 L469.01,503.26 L469.13,503.01 L469.2,502.72 L469.22,502.4 Z" fill="#2a2928" stroke="#111" stroke-width="0.5" stroke-linejoin="round" stroke-linecap="round" />
<path d="M472,457.74 L533.27,492.51 L533.27,421.91 L533.73,418.84 L535.08,416.59 L537.17,415.39 L539.81,415.35 L542.74,416.49 L545.67,418.68 L548.31,421.71 L550.41,425.29 L551.75,429.06 L552.21,432.66 L552.21,514.07 L552.1,515.69 L551.75,517.14 L551.18,518.38 L550.41,519.39 L549.44,520.13 L548.31,520.59 L547.04,520.75 L545.67,520.62 L544.22,520.2 L542.74,519.49 L472,479.34 L469.07,477.15 L466.43,474.12 L464.33,470.54 L462.99,466.76 L462.53,463.16 L462.99,460.09 L464.33,457.84 L466.43,456.64 L469.07,456.61 Z" fill="#2e2d2c" stroke="#1a1a1a" stroke-width="0.6" stroke-linejoin="round" stroke-linecap="round" />
<path d="M466.73,461.16 L528.01,495.94 L533.27,492.51 L472,457.74 Z" fill="#918d89" stroke="#918d89" stroke-width="0.4" stroke-linejoin="round" stroke-linecap="round" />
<path d="M528.01,425.33 L528.47,422.26 L533.73,418.84 L533.27,421.91 Z" fill="#2e2d2c" stroke="#2e2d2c" stroke-width="0.4" stroke-linejoin="round" stroke-linecap="round" />
<path d="M528.47,422.26 L529.81,420.01 L535.08,416.59 L533.73,418.84 Z" fill="#918d89" stroke="#918d89" stroke-width="0.4" stroke-linejoin="round" stroke-linecap="round" />
<path d="M529.81,420.01 L531.91,418.81 L537.17,415.39 L535.08,416.59 Z" fill="#918d89" stroke="#918d89" stroke-width="0.4" stroke-linejoin="round" stroke-linecap="round" />
<path d="M531.91,418.81 L534.55,418.77 L539.81,415.35 L537.17,415.39 Z" fill="#918d89" stroke="#918d89" stroke-width="0.4" stroke-linejoin="round" stroke-linecap="round" />
<path d="M534.55,418.77 L537.48,419.91 L542.74,416.49 L539.81,415.35 Z" fill="#918d89" stroke="#918d89" stroke-width="0.4" stroke-linejoin="round" stroke-linecap="round" />
<path d="M537.48,419.91 L540.4,422.1 L545.67,418.68 L542.74,416.49 Z" fill="#d2cec9" stroke="#d2cec9" stroke-width="0.4" stroke-linejoin="round" stroke-linecap="round" />
<path d="M540.4,422.1 L543.04,425.13 L548.31,421.71 L545.67,418.68 Z" fill="#d2cec9" stroke="#d2cec9" stroke-width="0.4" stroke-linejoin="round" stroke-linecap="round" />
<path d="M543.04,425.13 L545.14,428.71 L550.41,425.29 L548.31,421.71 Z" fill="#d2cec9" stroke="#d2cec9" stroke-width="0.4" stroke-linejoin="round" stroke-linecap="round" />
<path d="M545.14,428.71 L546.49,432.48 L551.75,429.06 L550.41,425.29 Z" fill="#d2cec9" stroke="#d2cec9" stroke-width="0.4" stroke-linejoin="round" stroke-linecap="round" />
<path d="M546.49,432.48 L546.95,436.08 L552.21,432.66 L551.75,429.06 Z" fill="#2e2d2c" stroke="#2e2d2c" stroke-width="0.4" stroke-linejoin="round" stroke-linecap="round" />
<path d="M546.95,436.08 L546.95,517.49 L552.21,514.07 L552.21,432.66 Z" fill="#2e2d2c" stroke="#2e2d2c" stroke-width="0.4" stroke-linejoin="round" stroke-linecap="round" />
<path d="M546.95,517.49 L546.83,519.11 L552.1,515.69 L552.21,514.07 Z" fill="#2e2d2c" stroke="#2e2d2c" stroke-width="0.4" stroke-linejoin="round" stroke-linecap="round" />
<path d="M546.83,519.11 L546.49,520.56 L551.75,517.14 L552.1,515.69 Z" fill="#2e2d2c" stroke="#2e2d2c" stroke-width="0.4" stroke-linejoin="round" stroke-linecap="round" />
<path d="M546.49,520.56 L545.92,521.8 L551.18,518.38 L551.75,517.14 Z" fill="#2e2d2c" stroke="#2e2d2c" stroke-width="0.4" stroke-linejoin="round" stroke-linecap="round" />
<path d="M545.92,521.8 L545.14,522.81 L550.41,519.39 L551.18,518.38 Z" fill="#2e2d2c" stroke="#2e2d2c" stroke-width="0.4" stroke-linejoin="round" stroke-linecap="round" />
<path d="M545.14,522.81 L544.17,523.55 L549.44,520.13 L550.41,519.39 Z" fill="#2e2d2c" stroke="#2e2d2c" stroke-width="0.4" stroke-linejoin="round" stroke-linecap="round" />
<path d="M544.17,523.55 L543.04,524.01 L548.31,520.59 L549.44,520.13 Z" fill="#2e2d2c" stroke="#2e2d2c" stroke-width="0.4" stroke-linejoin="round" stroke-linecap="round" />
<path d="M543.04,524.01 L541.78,524.17 L547.04,520.75 L548.31,520.59 Z" fill="#2e2d2c" stroke="#2e2d2c" stroke-width="0.4" stroke-linejoin="round" stroke-linecap="round" />
<path d="M541.78,524.17 L540.4,524.04 L545.67,520.62 L547.04,520.75 Z" fill="#2e2d2c" stroke="#2e2d2c" stroke-width="0.4" stroke-linejoin="round" stroke-linecap="round" />
<path d="M540.4,524.04 L538.96,523.62 L544.22,520.2 L545.67,520.62 Z" fill="#2e2d2c" stroke="#2e2d2c" stroke-width="0.4" stroke-linejoin="round" stroke-linecap="round" />
<path d="M538.96,523.62 L537.48,522.91 L542.74,519.49 L544.22,520.2 Z" fill="#2e2d2c" stroke="#2e2d2c" stroke-width="0.4" stroke-linejoin="round" stroke-linecap="round" />
<path d="M457.26,466.58 L457.72,463.51 L462.99,460.09 L462.53,463.16 Z" fill="#2e2d2c" stroke="#2e2d2c" stroke-width="0.4" stroke-linejoin="round" stroke-linecap="round" />
<path d="M457.72,463.51 L459.07,461.26 L464.33,457.84 L462.99,460.09 Z" fill="#918d89" stroke="#918d89" stroke-width="0.4" stroke-linejoin="round" stroke-linecap="round" />
<path d="M459.07,461.26 L461.17,460.06 L466.43,456.64 L464.33,457.84 Z" fill="#918d89" stroke="#918d89" stroke-width="0.4" stroke-linejoin="round" stroke-linecap="round" />
<path d="M461.17,460.06 L463.81,460.03 L469.07,456.61 L466.43,456.64 Z" fill="#918d89" stroke="#918d89" stroke-width="0.4" stroke-linejoin="round" stroke-linecap="round" />
<path d="M463.81,460.03 L466.73,461.16 L472,457.74 L469.07,456.61 Z" fill="#918d89" stroke="#918d89" stroke-width="0.4" stroke-linejoin="round" stroke-linecap="round" />
<path d="M466.73,461.16 L528.01,495.94 L528.01,425.33 L528.47,422.26 L529.81,420.01 L531.91,418.81 L534.55,418.77 L537.48,419.91 L540.4,422.1 L543.04,425.13 L545.14,428.71 L546.49,432.48 L546.95,436.08 L546.95,517.49 L546.83,519.11 L546.49,520.56 L545.92,521.8 L545.14,522.81 L544.17,523.55 L543.04,524.01 L541.78,524.17 L540.4,524.04 L538.96,523.62 L537.48,522.91 L466.73,482.76 L463.81,480.57 L461.17,477.54 L459.07,473.96 L457.72,470.18 L457.26,466.58 L457.72,463.51 L459.07,461.26 L461.17,460.06 L463.81,460.03 Z" fill="#726e6a" stroke="#1a1a1a" stroke-width="0.8" stroke-linejoin="round" stroke-linecap="round" />
<path d="M528.01,425.33 L546.95,436.08 L546.95,506.69 L528.01,495.94 Z" fill="url(#arm)" stroke="none" stroke-width="0.8" stroke-linejoin="round" stroke-linecap="round" />
<path d="M454.98,468.14 L455.1,466.52 L455.44,465.08 L456.01,463.85 L456.78,462.85 L457.74,462.11 L459.79,460.78 L460.91,460.33 L462.17,460.16 L463.53,460.29 L464.97,460.71 L466.44,461.42 L467.91,462.38 L469.35,463.59 L470.71,465.01 L471.97,466.61 L473.1,468.34 L474.06,470.16 L474.83,472.04 L475.39,473.91 L475.74,475.75 L475.85,477.49 L475.74,479.11 L475.39,480.55 L474.83,481.78 L474.06,482.78 L473.1,483.52 L471.05,484.85 L469.93,485.3 L468.67,485.47 L467.3,485.34 L465.87,484.92 L464.39,484.21 L462.92,483.24 L461.48,482.04 L460.12,480.62 L458.86,479.02 L457.74,477.29 L456.78,475.46 L456.01,473.59 L455.44,471.71 L455.1,469.88 Z" fill="url(#metal)" stroke="#1a1a1a" stroke-width="0.7" stroke-linejoin="round" stroke-linecap="round" />
<path d="M473.81,478.82 L473.69,477.08 L473.35,475.24 L472.78,473.37 L472.01,471.49 L471.05,469.67 L469.93,467.94 L468.67,466.34 L467.3,464.92 L465.87,463.71 L464.39,462.75 L462.92,462.04 L461.48,461.62 L460.12,461.49 L458.86,461.66 L457.74,462.11 L456.78,462.85 L456.01,463.85 L455.44,465.08 L455.1,466.52 L454.98,468.14 L455.1,469.88 L455.44,471.71 L456.01,473.59 L456.78,475.47 L457.74,477.29 L458.86,479.02 L460.12,480.62 L461.48,482.04 L462.92,483.24 L464.39,484.21 L465.87,484.92 L467.3,485.34 L468.67,485.47 L469.93,485.3 L471.05,484.85 L472.01,484.11 L472.78,483.11 L473.35,481.88 L473.69,480.43 L473.81,478.82 Z" fill="#75716d" stroke="#111" stroke-width="0.9" stroke-linejoin="round" stroke-linecap="round" />
<path d="M459.72,470.82 L459.7,470.65 L459.67,470.46 L459.61,470.28 L459.54,470.09 L459.44,469.9 L459.33,469.73 L459.2,469.57 L459.06,469.43 L458.92,469.3 L458.77,469.21 L458.62,469.14 L458.48,469.09 L458.34,469.08 L458.21,469.1 L458.1,469.14 L458,469.22 L457.93,469.32 L457.87,469.44 L457.83,469.59 L457.82,469.75 L457.83,469.92 L457.87,470.11 L457.93,470.3 L458,470.49 L458.1,470.67 L458.21,470.84 L458.34,471.01 L458.48,471.15 L458.62,471.27 L458.77,471.37 L458.92,471.44 L459.06,471.48 L459.2,471.49 L459.33,471.48 L459.44,471.43 L459.54,471.36 L459.61,471.26 L459.67,471.13 L459.7,470.99 L459.72,470.82 Z" fill="#1e1e1e" stroke="none" stroke-width="0.8" stroke-linejoin="round" stroke-linecap="round" />
<path d="M470.96,477.21 L470.95,477.03 L470.92,476.85 L470.86,476.66 L470.78,476.47 L470.69,476.29 L470.57,476.11 L470.45,475.95 L470.31,475.81 L470.17,475.69 L470.02,475.59 L469.87,475.52 L469.72,475.48 L469.59,475.46 L469.46,475.48 L469.35,475.53 L469.25,475.6 L469.17,475.7 L469.12,475.83 L469.08,475.97 L469.07,476.13 L469.08,476.31 L469.12,476.49 L469.17,476.68 L469.25,476.87 L469.35,477.05 L469.46,477.23 L469.59,477.39 L469.72,477.53 L469.87,477.65 L470.02,477.75 L470.17,477.82 L470.31,477.86 L470.45,477.88 L470.57,477.86 L470.69,477.81 L470.78,477.74 L470.86,477.64 L470.92,477.52 L470.95,477.37 L470.96,477.21 Z" fill="#1e1e1e" stroke="none" stroke-width="0.8" stroke-linejoin="round" stroke-linecap="round" />
<path d="M525.72,508.29 L525.84,506.68 L526.18,505.23 L526.75,504 L527.52,503 L528.48,502.26 L530.53,500.93 L531.65,500.48 L532.91,500.31 L534.28,500.44 L535.71,500.87 L537.18,501.57 L538.66,502.54 L540.09,503.75 L541.46,505.16 L542.72,506.76 L543.84,508.49 L544.8,510.31 L545.57,512.19 L546.14,514.07 L546.48,515.9 L546.6,517.64 L546.48,519.26 L546.14,520.7 L545.57,521.93 L544.8,522.93 L543.84,523.67 L541.79,525 L540.67,525.45 L539.41,525.62 L538.05,525.49 L536.61,525.07 L535.14,524.36 L533.66,523.4 L532.23,522.19 L530.86,520.77 L529.6,519.17 L528.48,517.44 L527.52,515.62 L526.75,513.74 L526.18,511.87 L525.84,510.03 Z" fill="url(#metal)" stroke="#1a1a1a" stroke-width="0.7" stroke-linejoin="round" stroke-linecap="round" />
<path d="M544.55,518.97 L544.43,517.23 L544.09,515.4 L543.52,513.52 L542.75,511.64 L541.79,509.82 L540.67,508.09 L539.41,506.49 L538.05,505.07 L536.61,503.87 L535.14,502.9 L533.66,502.19 L532.23,501.77 L530.86,501.64 L529.6,501.81 L528.48,502.26 L527.52,503 L526.75,504 L526.18,505.23 L525.84,506.68 L525.72,508.29 L525.84,510.03 L526.18,511.87 L526.75,513.74 L527.52,515.62 L528.48,517.44 L529.6,519.17 L530.86,520.77 L532.23,522.19 L533.66,523.4 L535.14,524.36 L536.61,525.07 L538.05,525.49 L539.41,525.62 L540.67,525.45 L541.79,525 L542.75,524.26 L543.52,523.26 L544.09,522.03 L544.43,520.59 L544.55,518.97 Z" fill="#75716d" stroke="#111" stroke-width="0.9" stroke-linejoin="round" stroke-linecap="round" />
<path d="M530.46,510.98 L530.45,510.8 L530.41,510.62 L530.36,510.43 L530.28,510.24 L530.18,510.06 L530.07,509.88 L529.94,509.72 L529.81,509.58 L529.66,509.46 L529.51,509.36 L529.36,509.29 L529.22,509.25 L529.08,509.23 L528.96,509.25 L528.84,509.3 L528.75,509.37 L528.67,509.47 L528.61,509.59 L528.58,509.74 L528.57,509.9 L528.58,510.08 L528.61,510.26 L528.67,510.45 L528.75,510.64 L528.84,510.82 L528.96,511 L529.08,511.16 L529.22,511.3 L529.36,511.42 L529.51,511.52 L529.66,511.59 L529.81,511.63 L529.94,511.65 L530.07,511.63 L530.18,511.58 L530.28,511.51 L530.36,511.41 L530.41,511.28 L530.45,511.14 L530.46,510.98 Z" fill="#1e1e1e" stroke="none" stroke-width="0.8" stroke-linejoin="round" stroke-linecap="round" />
<path d="M541.71,517.36 L541.7,517.19 L541.66,517 L541.6,516.81 L541.53,516.62 L541.43,516.44 L541.32,516.27 L541.19,516.1 L541.05,515.96 L540.91,515.84 L540.76,515.74 L540.61,515.67 L540.47,515.63 L540.33,515.62 L540.2,515.63 L540.09,515.68 L539.99,515.75 L539.92,515.85 L539.86,515.98 L539.83,516.12 L539.81,516.29 L539.83,516.46 L539.86,516.65 L539.92,516.83 L539.99,517.02 L540.09,517.21 L540.2,517.38 L540.33,517.54 L540.47,517.68 L540.61,517.81 L540.76,517.9 L540.91,517.97 L541.05,518.02 L541.19,518.03 L541.32,518.01 L541.43,517.97 L541.53,517.89 L541.6,517.79 L541.66,517.67 L541.7,517.52 L541.71,517.36 Z" fill="#1e1e1e" stroke="none" stroke-width="0.8" stroke-linejoin="round" stroke-linecap="round" />
<path d="M525.72,426.88 L525.84,425.27 L526.18,423.83 L526.75,422.59 L527.52,421.6 L528.48,420.86 L530.53,419.53 L531.65,419.07 L532.91,418.91 L534.28,419.04 L535.71,419.46 L537.18,420.16 L538.66,421.13 L540.09,422.34 L541.46,423.76 L542.72,425.35 L543.84,427.08 L544.8,428.91 L545.57,430.78 L546.14,432.66 L546.48,434.49 L546.6,436.24 L546.48,437.85 L546.14,439.29 L545.57,440.53 L544.8,441.53 L543.84,442.26 L541.79,443.59 L540.67,444.05 L539.41,444.21 L538.05,444.08 L536.61,443.66 L535.14,442.96 L533.66,441.99 L532.23,440.78 L530.86,439.36 L529.6,437.77 L528.48,436.04 L527.52,434.21 L526.75,432.34 L526.18,430.46 L525.84,428.63 Z" fill="url(#metal)" stroke="#1a1a1a" stroke-width="0.7" stroke-linejoin="round" stroke-linecap="round" />
<path d="M544.55,437.57 L544.43,435.82 L544.09,433.99 L543.52,432.11 L542.75,430.24 L541.79,428.41 L540.67,426.68 L539.41,425.09 L538.05,423.67 L536.61,422.46 L535.14,421.49 L533.66,420.79 L532.23,420.37 L530.86,420.24 L529.6,420.4 L528.48,420.86 L527.52,421.6 L526.75,422.59 L526.18,423.83 L525.84,425.27 L525.72,426.88 L525.84,428.63 L526.18,430.46 L526.75,432.34 L527.52,434.21 L528.48,436.04 L529.6,437.77 L530.86,439.36 L532.23,440.78 L533.66,441.99 L535.14,442.96 L536.61,443.66 L538.05,444.08 L539.41,444.21 L540.67,444.05 L541.79,443.59 L542.75,442.86 L543.52,441.86 L544.09,440.62 L544.43,439.18 L544.55,437.57 Z" fill="#75716d" stroke="#111" stroke-width="0.9" stroke-linejoin="round" stroke-linecap="round" />
<path d="M530.46,429.57 L530.45,429.4 L530.41,429.21 L530.36,429.02 L530.28,428.83 L530.18,428.65 L530.07,428.48 L529.94,428.32 L529.81,428.17 L529.66,428.05 L529.51,427.95 L529.36,427.88 L529.22,427.84 L529.08,427.83 L528.96,427.84 L528.84,427.89 L528.75,427.96 L528.67,428.06 L528.61,428.19 L528.58,428.33 L528.57,428.5 L528.58,428.67 L528.61,428.86 L528.67,429.05 L528.75,429.23 L528.84,429.42 L528.96,429.59 L529.08,429.75 L529.22,429.9 L529.36,430.02 L529.51,430.11 L529.66,430.18 L529.81,430.23 L529.94,430.24 L530.07,430.22 L530.18,430.18 L530.28,430.1 L530.36,430 L530.41,429.88 L530.45,429.73 L530.46,429.57 Z" fill="#1e1e1e" stroke="none" stroke-width="0.8" stroke-linejoin="round" stroke-linecap="round" />
<path d="M541.71,435.96 L541.7,435.78 L541.66,435.6 L541.6,435.41 L541.53,435.22 L541.43,435.03 L541.32,434.86 L541.19,434.7 L541.05,434.56 L540.91,434.44 L540.76,434.34 L540.61,434.27 L540.47,434.22 L540.33,434.21 L540.2,434.23 L540.09,434.27 L539.99,434.35 L539.92,434.45 L539.86,434.57 L539.83,434.72 L539.81,434.88 L539.83,435.06 L539.86,435.24 L539.92,435.43 L539.99,435.62 L540.09,435.8 L540.2,435.98 L540.33,436.14 L540.47,436.28 L540.61,436.4 L540.76,436.5 L540.91,436.57 L541.05,436.61 L541.19,436.62 L541.32,436.61 L541.43,436.56 L541.53,436.49 L541.6,436.39 L541.66,436.26 L541.7,436.12 L541.71,435.96 Z" fill="#1e1e1e" stroke="none" stroke-width="0.8" stroke-linejoin="round" stroke-linecap="round" />
<mask id="wm"><rect x="200" y="320" width="70" height="60" fill="#fff"/><circle cx="233.7" cy="351.3" r="13.9" fill="#000"/><path d="M242.3,329.1 L253.6,329.1 L253.6,330.1 L238.8,338.4 L234,345.5 L226.6,339.6 Z" fill="#000"/><path d="M225.1,373.6 L213.8,373.6 L213.8,372.6 L228.6,364.2 L233.4,357.1 L240.8,363 Z" fill="#000"/><circle cx="233.7" cy="351.3" r="9.0" fill="#fff"/></mask>
<rect x="212.8" y="330.1" width="42.4" height="42.5" fill="rgba(0,0,0,0.15)" mask="url(#wm)"/>
<text x="261.4" y="369.8" font-family="Liberation Sans, sans-serif" font-weight="bold" font-size="53.5" fill="rgba(0,0,0,0.15)" textLength="228" lengthAdjust="spacingAndGlyphs" filter="url(#nf)">INOXHUB</text>
<line x1="107" y1="151" x2="344.5" y2="151" stroke="#3a3a3a" stroke-width="0.8" />
<line x1="107" y1="17.5" x2="169.5" y2="17.5" stroke="#3a3a3a" stroke-width="0.8" />
<line x1="169.5" y1="17.5" x2="169.5" y2="254" stroke="#3a3a3a" stroke-width="0.8" />
<line x1="110.5" y1="17.5" x2="110.5" y2="151" stroke="#3a3a3a" stroke-width="0.8" />
<line x1="237.3" y1="187.5" x2="237.3" y2="254.3" stroke="#3a3a3a" stroke-width="0.8" />
<line x1="302.5" y1="151" x2="302.5" y2="254" stroke="#3a3a3a" stroke-width="0.8" />
<line x1="169.5" y1="251" x2="302.5" y2="251" stroke="#3a3a3a" stroke-width="0.8" />
<line x1="214.7" y1="217.2" x2="264.3" y2="217.2" stroke="#3a3a3a" stroke-width="0.8" />
<line x1="341.25" y1="151" x2="341.25" y2="224.5" stroke="#3a3a3a" stroke-width="0.8" />
<path d="M230,112.5 L182.5,112.5 L157.5,183.75" fill="none" stroke="#3a3a3a" stroke-width="0.8" stroke-linejoin="round" />
<path d="M123.75,-2 L123.75,295.75 L234.9,295.75 L234.9,-2" fill="none" stroke="#111" stroke-width="2" stroke-linejoin="round" />
<path d="M237.7,-2 L237.7,187.7 L348.25,187.7 L348.25,-2" fill="none" stroke="#111" stroke-width="2" stroke-linejoin="round" />
<rect x="235.5" y="-2" width="1.6" height="190.6" fill="#3a3a3a"/>
<circle cx="169.5" cy="17.5" r="14.4" fill="none" stroke="#111" stroke-width="1.8"/>
<circle cx="169.5" cy="151" r="14.4" fill="none" stroke="#111" stroke-width="1.8"/>
<circle cx="302.5" cy="151" r="14.4" fill="none" stroke="#111" stroke-width="1.8"/>
<path d="M110.5,17.5 L112.4,26.5 L110.5,23.98 L108.6,26.5 Z" fill="#1a1a1a" stroke="none" stroke-width="1" stroke-linejoin="round" />
<path d="M110.5,151 L108.6,142 L110.5,144.52 L112.4,142 Z" fill="#1a1a1a" stroke="none" stroke-width="1" stroke-linejoin="round" />
<path d="M169.5,251 L178.5,249.1 L175.98,251 L178.5,252.9 Z" fill="#1a1a1a" stroke="none" stroke-width="1" stroke-linejoin="round" />
<path d="M234.2,251 L225.2,252.9 L227.72,251 L225.2,249.1 Z" fill="#1a1a1a" stroke="none" stroke-width="1" stroke-linejoin="round" />
<path d="M238.4,251 L247.4,249.1 L244.88,251 L247.4,252.9 Z" fill="#1a1a1a" stroke="none" stroke-width="1" stroke-linejoin="round" />
<path d="M302.5,251 L293.5,252.9 L296.02,251 L293.5,249.1 Z" fill="#1a1a1a" stroke="none" stroke-width="1" stroke-linejoin="round" />
<path d="M234.2,217.2 L225.2,219.1 L227.72,217.2 L225.2,215.3 Z" fill="#1a1a1a" stroke="none" stroke-width="1" stroke-linejoin="round" />
<path d="M238.4,217.2 L247.4,215.3 L244.88,217.2 L247.4,219.1 Z" fill="#1a1a1a" stroke="none" stroke-width="1" stroke-linejoin="round" />
<path d="M341.25,151 L343.15,160 L341.25,157.48 L339.35,160 Z" fill="#1a1a1a" stroke="none" stroke-width="1" stroke-linejoin="round" />
<path d="M341.25,187 L339.35,178 L341.25,180.52 L343.15,178 Z" fill="#1a1a1a" stroke="none" stroke-width="1" stroke-linejoin="round" />
<path d="M174.27,137.41 L175.45,128.29 L176.41,131.3 L179.04,129.55 Z" fill="#1a1a1a" stroke="none" stroke-width="1" stroke-linejoin="round" />
<path d="M164.73,164.59 L163.55,173.71 L162.59,170.7 L159.96,172.45 Z" fill="#1a1a1a" stroke="none" stroke-width="1" stroke-linejoin="round" />
<text x="108" y="70" font-family="Liberation Sans, sans-serif" font-size="16" font-style="italic" font-weight="normal" fill="#161616" text-anchor="middle" textLength="20" lengthAdjust="spacingAndGlyphs" transform="rotate(-90 108 70)" filter="url(#nf)" >120</text>
<ellipse cx="201.8" cy="103.6" rx="4.9" ry="5.7" transform="rotate(14 201.8 103.6)" fill="none" stroke="#1c1c1c" stroke-width="1.05"/>
<line x1="205.2" y1="96.3" x2="198.8" y2="110.6" stroke="#1c1c1c" stroke-width="1.05" />
<text x="218.5" y="109" font-family="Liberation Sans, sans-serif" font-size="16" font-style="italic" font-weight="normal" fill="#161616" text-anchor="middle" textLength="14.5" lengthAdjust="spacingAndGlyphs" filter="url(#nf)" >26</text>
<text x="195" y="246.6" font-family="Liberation Sans, sans-serif" font-size="16" font-style="italic" font-weight="normal" fill="#161616" text-anchor="middle" textLength="15.5" lengthAdjust="spacingAndGlyphs" filter="url(#nf)" >59</text>
<text x="279" y="246.6" font-family="Liberation Sans, sans-serif" font-size="16" font-style="italic" font-weight="normal" fill="#161616" text-anchor="middle" textLength="15.5" lengthAdjust="spacingAndGlyphs" filter="url(#nf)" >59</text>
<text x="257.3" y="213.6" font-family="Liberation Sans, sans-serif" font-size="16" font-style="italic" font-weight="normal" fill="#161616" text-anchor="middle" textLength="8.5" lengthAdjust="spacingAndGlyphs" filter="url(#nf)" >2</text>
<text x="337.5" y="212" font-family="Liberation Sans, sans-serif" font-size="16" font-style="italic" font-weight="normal" fill="#161616" text-anchor="middle" textLength="14" lengthAdjust="spacingAndGlyphs" transform="rotate(-90 337.5 212)" filter="url(#nf)" >33</text>
<path d="M448.75,17 L448.75,166.6 L581.4,166.6 L581.4,133.9 L482,133.9 L482,17 Z" fill="#f4f0ed" stroke="#c2c2c2" stroke-width="1.2" stroke-linejoin="round" />
<path d="M581.6,150 V196 A16.9,15.2 0 0,0 615.4,196 V150 Z" fill="#f3eeeb" stroke="#d0d0d0" stroke-width="1"/>
<path d="M581.6,187.5 V196 A16.9,15.2 0 0,0 615.4,196 V187.5 Z" fill="#efe3dc" stroke="#555" stroke-width="0.9"/>
<circle cx="598.8" cy="194.6" r="6" fill="url(#ball)" stroke="#222" stroke-width="0.6"/>
<path d="M419.5,-2 L419.5,294 L530.6,294 L530.6,187" fill="none" stroke="#222" stroke-width="1.1" stroke-linejoin="round" />
<path d="M533.6,187.2 L644.7,187.2 L644.7,-2" fill="none" stroke="#222" stroke-width="1.2" stroke-linejoin="round" />
<rect x="530" y="-2" width="4.3" height="189.5" fill="#707070"/>
<rect x="530" y="187" width="1.6" height="107" fill="#555"/>
<rect x="530.6" y="133" width="3" height="1.8" fill="#111"/>
<rect x="530.6" y="165.8" width="3" height="1.8" fill="#111"/>
<circle cx="465.2" cy="17" r="19.3" fill="url(#ring)" stroke="#222" stroke-width="1"/>
<circle cx="465.2" cy="17" r="14" fill="url(#disc)" stroke="#1a1a1a" stroke-width="1.1"/>
<circle cx="455.2" cy="17" r="1.5" fill="#666" stroke="#1a1a1a" stroke-width="0.8"/>
<circle cx="475.2" cy="17" r="1.5" fill="#666" stroke="#1a1a1a" stroke-width="0.8"/>
<circle cx="465.2" cy="150.2" r="19.3" fill="url(#ring)" stroke="#222" stroke-width="1"/>
<circle cx="465.2" cy="150.2" r="14" fill="url(#disc)" stroke="#1a1a1a" stroke-width="1.1"/>
<circle cx="455.2" cy="150.2" r="1.5" fill="#666" stroke="#1a1a1a" stroke-width="0.8"/>
<circle cx="475.2" cy="150.2" r="1.5" fill="#666" stroke="#1a1a1a" stroke-width="0.8"/>
<circle cx="598.8" cy="150.3" r="19.3" fill="url(#ring)" stroke="#222" stroke-width="1"/>
<circle cx="598.8" cy="150.3" r="14" fill="url(#disc)" stroke="#1a1a1a" stroke-width="1.1"/>
<circle cx="588.8" cy="150.3" r="1.5" fill="#666" stroke="#1a1a1a" stroke-width="0.8"/>
<circle cx="608.8" cy="150.3" r="1.5" fill="#666" stroke="#1a1a1a" stroke-width="0.8"/>
<line x1="405" y1="17" x2="464.5" y2="17" stroke="#3a3a3a" stroke-width="0.8" />
<line x1="405" y1="150.2" x2="464.5" y2="150.2" stroke="#3a3a3a" stroke-width="0.8" />
<line x1="408" y1="17" x2="408" y2="150.2" stroke="#3a3a3a" stroke-width="0.8" />
<line x1="465.2" y1="17" x2="465.2" y2="264.3" stroke="#333" stroke-width="1.0" />
<line x1="598.8" y1="150.3" x2="641" y2="150.3" stroke="#2a2a2a" stroke-width="1.0" />
<line x1="598.8" y1="150.3" x2="598.8" y2="264.3" stroke="#2a2a2a" stroke-width="1.1" />
<line x1="533.6" y1="187" x2="533.6" y2="264.3" stroke="#3a3a3a" stroke-width="0.8" />
<line x1="465.2" y1="261.7" x2="598.8" y2="261.7" stroke="#3a3a3a" stroke-width="0.8" />
<line x1="510.5" y1="231.4" x2="559.8" y2="231.4" stroke="#3a3a3a" stroke-width="0.8" />
<line x1="637.5" y1="150.3" x2="637.5" y2="232" stroke="#3a3a3a" stroke-width="0.8" />
<path d="M408,17 L409.9,26 L408,23.48 L406.1,26 Z" fill="#1a1a1a" stroke="none" stroke-width="1" stroke-linejoin="round" />
<path d="M408,150.2 L406.1,141.2 L408,143.72 L409.9,141.2 Z" fill="#1a1a1a" stroke="none" stroke-width="1" stroke-linejoin="round" />
<path d="M465.2,261.7 L474.2,259.8 L471.68,261.7 L474.2,263.6 Z" fill="#1a1a1a" stroke="none" stroke-width="1" stroke-linejoin="round" />
<path d="M529.8,261.7 L520.8,263.6 L523.32,261.7 L520.8,259.8 Z" fill="#1a1a1a" stroke="none" stroke-width="1" stroke-linejoin="round" />
<path d="M534.4,261.7 L543.4,259.8 L540.88,261.7 L543.4,263.6 Z" fill="#1a1a1a" stroke="none" stroke-width="1" stroke-linejoin="round" />
<path d="M598.8,261.7 L589.8,263.6 L592.32,261.7 L589.8,259.8 Z" fill="#1a1a1a" stroke="none" stroke-width="1" stroke-linejoin="round" />
<path d="M529.8,231.4 L520.8,233.3 L523.32,231.4 L520.8,229.5 Z" fill="#1a1a1a" stroke="none" stroke-width="1" stroke-linejoin="round" />
<path d="M534.4,231.4 L543.4,229.5 L540.88,231.4 L543.4,233.3 Z" fill="#1a1a1a" stroke="none" stroke-width="1" stroke-linejoin="round" />
<path d="M637.5,150.3 L639.4,159.3 L637.5,156.78 L635.6,159.3 Z" fill="#1a1a1a" stroke="none" stroke-width="1" stroke-linejoin="round" />
<path d="M637.5,187 L635.6,178 L637.5,180.52 L639.4,178 Z" fill="#1a1a1a" stroke="none" stroke-width="1" stroke-linejoin="round" />
<text x="403" y="79.5" font-family="Liberation Sans, sans-serif" font-size="16" font-style="italic" font-weight="normal" fill="#161616" text-anchor="middle" textLength="19.5" lengthAdjust="spacingAndGlyphs" transform="rotate(-90 403 79.5)" filter="url(#nf)" >120</text>
<text x="494.5" y="258" font-family="Liberation Sans, sans-serif" font-size="16" font-style="italic" font-weight="normal" fill="#161616" text-anchor="middle" textLength="14.5" lengthAdjust="spacingAndGlyphs" filter="url(#nf)" >59</text>
<text x="577.5" y="258" font-family="Liberation Sans, sans-serif" font-size="16" font-style="italic" font-weight="normal" fill="#161616" text-anchor="middle" textLength="14.5" lengthAdjust="spacingAndGlyphs" filter="url(#nf)" >59</text>
<text x="553" y="227.5" font-family="Liberation Sans, sans-serif" font-size="16" font-style="italic" font-weight="normal" fill="#161616" text-anchor="middle" textLength="8" lengthAdjust="spacingAndGlyphs" filter="url(#nf)" >2</text>
<text x="634" y="218.5" font-family="Liberation Sans, sans-serif" font-size="16" font-style="italic" font-weight="normal" fill="#161616" text-anchor="middle" textLength="13.5" lengthAdjust="spacingAndGlyphs" transform="rotate(-90 634 218.5)" filter="url(#nf)" >33</text>
<line x1="66.5" y1="0" x2="66.5" y2="700" stroke="#b4b4b4" stroke-width="1.5" />
<line x1="683.2" y1="0" x2="683.2" y2="700" stroke="#b4b4b4" stroke-width="1.5" />
<line x1="27" y1="0" x2="27" y2="270.8" stroke="#b4b4b4" stroke-width="1.5" />
<line x1="27" y1="344.5" x2="27" y2="700" stroke="#b4b4b4" stroke-width="1.5" />
<line x1="43" y1="0" x2="43" y2="270.8" stroke="#b4b4b4" stroke-width="1.5" />
<line x1="43" y1="344.5" x2="43" y2="700" stroke="#b4b4b4" stroke-width="1.5" />
<line x1="27" y1="71.7" x2="66.5" y2="71.7" stroke="#b4b4b4" stroke-width="1.5" />
<line x1="27" y1="270.8" x2="66.5" y2="270.8" stroke="#b4b4b4" stroke-width="1.5" />
<line x1="27" y1="344.5" x2="66.5" y2="344.5" stroke="#b4b4b4" stroke-width="1.5" />
<line x1="27" y1="461.9" x2="66.5" y2="461.9" stroke="#b4b4b4" stroke-width="1.5" />
<line x1="27" y1="545.8" x2="66.5" y2="545.8" stroke="#b4b4b4" stroke-width="1.5" />
<line x1="27" y1="629" x2="66.5" y2="629" stroke="#b4b4b4" stroke-width="1.5" />
<line x1="66.5" y1="645" x2="683.2" y2="645" stroke="#b4b4b4" stroke-width="1.5" />
<line x1="90.3" y1="645" x2="90.3" y2="700" stroke="#b4b4b4" stroke-width="1.5" />
<line x1="123.4" y1="645" x2="123.4" y2="700" stroke="#b4b4b4" stroke-width="1.5" />
<line x1="200.4" y1="645" x2="200.4" y2="700" stroke="#b4b4b4" stroke-width="1.5" />
<line x1="250.4" y1="645" x2="250.4" y2="700" stroke="#b4b4b4" stroke-width="1.5" />
<line x1="283.2" y1="645" x2="283.2" y2="700" stroke="#b4b4b4" stroke-width="1.5" />
<line x1="66.5" y1="661.6" x2="283.2" y2="661.6" stroke="#c4c4c4" stroke-width="0.9" />
<line x1="66.5" y1="678.3" x2="283.2" y2="678.3" stroke="#c4c4c4" stroke-width="0.9" />
<line x1="66.5" y1="695" x2="283.2" y2="695" stroke="#c4c4c4" stroke-width="0.9" />
<line x1="283.2" y1="694.8" x2="683.2" y2="694.8" stroke="#b4b4b4" stroke-width="1.5" />
<line x1="517.2" y1="694.8" x2="517.2" y2="700" stroke="#b4b4b4" stroke-width="1.5" />
<line x1="566.8" y1="694.8" x2="566.8" y2="700" stroke="#b4b4b4" stroke-width="1.5" />
<line x1="624" y1="694.8" x2="624" y2="700" stroke="#b4b4b4" stroke-width="1.5" />
<text x="38" y="11" font-family="Liberation Sans, sans-serif" font-size="9" font-style="italic" font-weight="normal" fill="#555" text-anchor="start" textLength="52" lengthAdjust="spacingAndGlyphs" transform="rotate(-90 38 11)" filter="url(#nf)" >Перв. примен.</text>
<text x="38.5" y="170.6" font-family="Liberation Sans, sans-serif" font-size="9" font-style="italic" font-weight="normal" fill="#555" text-anchor="middle" textLength="32.5" lengthAdjust="spacingAndGlyphs" transform="rotate(-90 38.5 170.6)" filter="url(#nf)" >Справ. №</text>
<text x="38" y="411.3" font-family="Liberation Sans, sans-serif" font-size="9" font-style="italic" font-weight="normal" fill="#555" text-anchor="middle" textLength="47.8" lengthAdjust="spacingAndGlyphs" transform="rotate(-90 38 411.3)" filter="url(#nf)" >Подп. и дата</text>
<text x="38" y="510.3" font-family="Liberation Sans, sans-serif" font-size="9" font-style="italic" font-weight="normal" fill="#555" text-anchor="middle" textLength="45.4" lengthAdjust="spacingAndGlyphs" transform="rotate(-90 38 510.3)" filter="url(#nf)" >Инв. № дубл.</text>
<text x="38" y="593.4" font-family="Liberation Sans, sans-serif" font-size="9" font-style="italic" font-weight="normal" fill="#555" text-anchor="middle" textLength="48.8" lengthAdjust="spacingAndGlyphs" transform="rotate(-90 38 593.4)" filter="url(#nf)" >Взам. инв. №</text>
<text x="38" y="695" font-family="Liberation Sans, sans-serif" font-size="9" font-style="italic" font-weight="normal" fill="#555" text-anchor="middle" textLength="47.8" lengthAdjust="spacingAndGlyphs" transform="rotate(-90 38 695)" filter="url(#nf)" >Подп. и дата</text>
<text x="694.5" y="482" font-family="Liberation Sans, sans-serif" font-size="10" font-style="italic" font-weight="normal" fill="#333" text-anchor="end" textLength="222" lengthAdjust="spacingAndGlyphs" transform="rotate(-90 694.5 482)" filter="url(#nf)" >(760а SSS) со стопором без зенковки, нерж. сталь матовая</text>
<text x="484.5" y="679" font-family="Liberation Sans, sans-serif" font-size="20" font-style="italic" font-weight="normal" fill="#222" text-anchor="middle" textLength="53" lengthAdjust="spacingAndGlyphs" filter="url(#nf)" >Стекло</text>
<text x="420" y="707.4" font-family="Liberation Sans, sans-serif" font-size="12" font-style="italic" font-weight="normal" fill="#333" text-anchor="start" textLength="49" lengthAdjust="spacingAndGlyphs" filter="url(#nf)" >(740а SSS)</text>
<text x="394" y="707.4" font-family="Liberation Sans, sans-serif" font-size="12" font-style="italic" font-weight="normal" fill="#333" text-anchor="start" textLength="18" lengthAdjust="spacingAndGlyphs" filter="url(#nf)" >й lб/</text>
<text x="330" y="707.4" font-family="Liberation Sans, sans-serif" font-size="12" font-style="italic" font-weight="normal" fill="#333" text-anchor="start" textLength="6" lengthAdjust="spacingAndGlyphs" filter="url(#nf)" >б</text>
</svg>
</body></html>
